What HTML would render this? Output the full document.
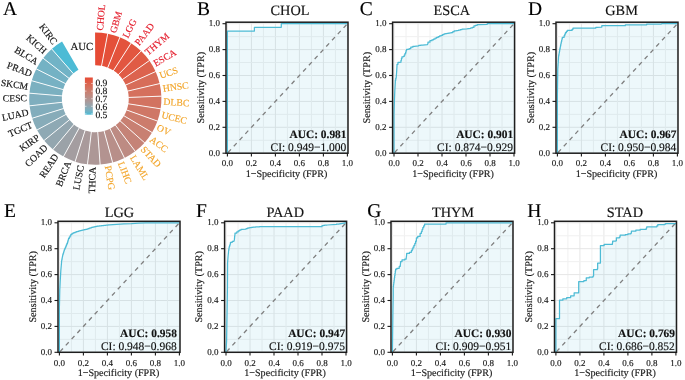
<!DOCTYPE html>
<html><head><meta charset="utf-8"><style>
html,body{margin:0;padding:0;background:#fff;}
body{width:685px;height:380px;overflow:hidden;font-family:"Liberation Serif",serif;}
svg{display:block;will-change:transform;} text{text-rendering:geometricPrecision;stroke-width:0.15px;paint-order:stroke;}
</style></head><body>
<svg width="685" height="380" viewBox="0 0 685 380">
<rect width="685" height="380" fill="#fff"/>
<path d="M95.18,65.25 L95.07,32.60 A66.1,66.1 0 0 1 107.69,33.77 L101.57,65.84 A33.45,33.45 0 0 0 95.18,65.25 Z" fill="#e64b35"/>
<path d="M101.57,65.84 L107.69,33.77 A66.1,66.1 0 0 1 119.85,37.33 L107.72,67.64 A33.45,33.45 0 0 0 101.57,65.84 Z" fill="#e45039"/>
<path d="M107.72,67.64 L119.85,37.33 A66.1,66.1 0 0 1 131.11,43.14 L113.42,70.58 A33.45,33.45 0 0 0 107.72,67.64 Z" fill="#e3533c"/>
<path d="M113.42,70.58 L131.11,43.14 A66.1,66.1 0 0 1 141.05,50.99 L118.45,74.56 A33.45,33.45 0 0 0 113.42,70.58 Z" fill="#e25640"/>
<path d="M118.45,74.56 L141.05,50.99 A66.1,66.1 0 0 1 149.31,60.60 L122.63,79.42 A33.45,33.45 0 0 0 118.45,74.56 Z" fill="#e05b45"/>
<path d="M122.63,79.42 L149.31,60.60 A66.1,66.1 0 0 1 155.59,71.60 L125.81,84.99 A33.45,33.45 0 0 0 122.63,79.42 Z" fill="#dc634e"/>
<path d="M125.81,84.99 L155.59,71.60 A66.1,66.1 0 0 1 159.65,83.61 L127.87,91.06 A33.45,33.45 0 0 0 125.81,84.99 Z" fill="#d76d59"/>
<path d="M127.87,91.06 L159.65,83.61 A66.1,66.1 0 0 1 161.35,96.16 L128.73,97.42 A33.45,33.45 0 0 0 127.87,91.06 Z" fill="#d5705d"/>
<path d="M128.73,97.42 L161.35,96.16 A66.1,66.1 0 0 1 160.62,108.81 L128.36,103.82 A33.45,33.45 0 0 0 128.73,97.42 Z" fill="#d27361"/>
<path d="M128.36,103.82 L160.62,108.81 A66.1,66.1 0 0 1 157.49,121.09 L126.77,110.03 A33.45,33.45 0 0 0 128.36,103.82 Z" fill="#cf7766"/>
<path d="M126.77,110.03 L157.49,121.09 A66.1,66.1 0 0 1 152.08,132.55 L124.03,115.83 A33.45,33.45 0 0 0 126.77,110.03 Z" fill="#cc7c6c"/>
<path d="M124.03,115.83 L152.08,132.55 A66.1,66.1 0 0 1 144.58,142.76 L120.24,121.00 A33.45,33.45 0 0 0 124.03,115.83 Z" fill="#c88072"/>
<path d="M120.24,121.00 L144.58,142.76 A66.1,66.1 0 0 1 135.26,151.35 L115.52,125.34 A33.45,33.45 0 0 0 120.24,121.00 Z" fill="#c58377"/>
<path d="M115.52,125.34 L135.26,151.35 A66.1,66.1 0 0 1 124.48,158.01 L110.07,128.71 A33.45,33.45 0 0 0 115.52,125.34 Z" fill="#bd8b83"/>
<path d="M110.07,128.71 L124.48,158.01 A66.1,66.1 0 0 1 112.63,162.49 L104.07,130.98 A33.45,33.45 0 0 0 110.07,128.71 Z" fill="#b88f89"/>
<path d="M104.07,130.98 L112.63,162.49 A66.1,66.1 0 0 1 100.14,164.62 L97.75,132.06 A33.45,33.45 0 0 0 104.07,130.98 Z" fill="#b39390"/>
<path d="M97.75,132.06 L100.14,164.62 A66.1,66.1 0 0 1 87.47,164.34 L91.34,131.91 A33.45,33.45 0 0 0 97.75,132.06 Z" fill="#ad9796"/>
<path d="M91.34,131.91 L87.47,164.34 A66.1,66.1 0 0 1 75.09,161.64 L85.07,130.55 A33.45,33.45 0 0 0 91.34,131.91 Z" fill="#a99a9b"/>
<path d="M85.07,130.55 L75.09,161.64 A66.1,66.1 0 0 1 63.46,156.62 L79.19,128.01 A33.45,33.45 0 0 0 85.07,130.55 Z" fill="#a49da0"/>
<path d="M79.19,128.01 L63.46,156.62 A66.1,66.1 0 0 1 52.99,149.48 L73.89,124.40 A33.45,33.45 0 0 0 79.19,128.01 Z" fill="#9ba2a8"/>
<path d="M73.89,124.40 L52.99,149.48 A66.1,66.1 0 0 1 44.08,140.48 L69.38,119.84 A33.45,33.45 0 0 0 73.89,124.40 Z" fill="#93a6af"/>
<path d="M69.38,119.84 L44.08,140.48 A66.1,66.1 0 0 1 37.05,129.94 L65.82,114.51 A33.45,33.45 0 0 0 69.38,119.84 Z" fill="#8ea9b4"/>
<path d="M65.82,114.51 L37.05,129.94 A66.1,66.1 0 0 1 32.16,118.25 L63.35,108.59 A33.45,33.45 0 0 0 65.82,114.51 Z" fill="#87acb9"/>
<path d="M63.35,108.59 L32.16,118.25 A66.1,66.1 0 0 1 29.59,105.84 L62.05,102.31 A33.45,33.45 0 0 0 63.35,108.59 Z" fill="#82adbc"/>
<path d="M62.05,102.31 L29.59,105.84 A66.1,66.1 0 0 1 29.43,93.17 L61.97,95.90 A33.45,33.45 0 0 0 62.05,102.31 Z" fill="#7faebe"/>
<path d="M61.97,95.90 L29.43,93.17 A66.1,66.1 0 0 1 31.70,80.70 L63.11,89.59 A33.45,33.45 0 0 0 61.97,95.90 Z" fill="#7bb0c0"/>
<path d="M63.11,89.59 L31.70,80.70 A66.1,66.1 0 0 1 36.30,68.90 L65.44,83.62 A33.45,33.45 0 0 0 63.11,89.59 Z" fill="#77b1c3"/>
<path d="M65.44,83.62 L36.30,68.90 A66.1,66.1 0 0 1 43.07,58.19 L68.87,78.20 A33.45,33.45 0 0 0 65.44,83.62 Z" fill="#74b2c4"/>
<path d="M68.87,78.20 L43.07,58.19 A66.1,66.1 0 0 1 51.76,48.97 L73.27,73.53 A33.45,33.45 0 0 0 68.87,78.20 Z" fill="#71b3c6"/>
<path d="M73.27,73.53 L51.76,48.97 A66.1,66.1 0 0 1 62.05,41.57 L78.47,69.79 A33.45,33.45 0 0 0 73.27,73.53 Z" fill="#4dbbd5"/>
<line x1="101.47" y1="66.33" x2="107.78" y2="33.28" stroke="#fff" stroke-width="0.9"/>
<line x1="107.54" y1="68.11" x2="120.03" y2="36.86" stroke="#fff" stroke-width="0.9"/>
<line x1="113.15" y1="71.00" x2="131.38" y2="42.72" stroke="#fff" stroke-width="0.9"/>
<line x1="118.11" y1="74.92" x2="141.40" y2="50.63" stroke="#fff" stroke-width="0.9"/>
<line x1="122.22" y1="79.71" x2="149.72" y2="60.31" stroke="#fff" stroke-width="0.9"/>
<line x1="125.35" y1="85.19" x2="156.05" y2="71.40" stroke="#fff" stroke-width="0.9"/>
<line x1="127.38" y1="91.18" x2="160.14" y2="83.49" stroke="#fff" stroke-width="0.9"/>
<line x1="128.23" y1="97.44" x2="161.85" y2="96.14" stroke="#fff" stroke-width="0.9"/>
<line x1="127.86" y1="103.74" x2="161.12" y2="108.89" stroke="#fff" stroke-width="0.9"/>
<line x1="126.30" y1="109.86" x2="157.96" y2="121.26" stroke="#fff" stroke-width="0.9"/>
<line x1="123.60" y1="115.57" x2="152.51" y2="132.80" stroke="#fff" stroke-width="0.9"/>
<line x1="119.86" y1="120.66" x2="144.95" y2="143.09" stroke="#fff" stroke-width="0.9"/>
<line x1="115.22" y1="124.95" x2="135.57" y2="151.75" stroke="#fff" stroke-width="0.9"/>
<line x1="109.85" y1="128.26" x2="124.70" y2="158.46" stroke="#fff" stroke-width="0.9"/>
<line x1="103.94" y1="130.50" x2="112.76" y2="162.97" stroke="#fff" stroke-width="0.9"/>
<line x1="97.71" y1="131.56" x2="100.18" y2="165.12" stroke="#fff" stroke-width="0.9"/>
<line x1="91.40" y1="131.42" x2="87.41" y2="164.83" stroke="#fff" stroke-width="0.9"/>
<line x1="85.23" y1="130.07" x2="74.94" y2="162.11" stroke="#fff" stroke-width="0.9"/>
<line x1="79.43" y1="127.57" x2="63.22" y2="157.06" stroke="#fff" stroke-width="0.9"/>
<line x1="74.21" y1="124.01" x2="52.67" y2="149.87" stroke="#fff" stroke-width="0.9"/>
<line x1="69.77" y1="119.53" x2="43.69" y2="140.79" stroke="#fff" stroke-width="0.9"/>
<line x1="66.26" y1="114.27" x2="36.61" y2="130.17" stroke="#fff" stroke-width="0.9"/>
<line x1="63.82" y1="108.44" x2="31.68" y2="118.39" stroke="#fff" stroke-width="0.9"/>
<line x1="62.54" y1="102.26" x2="29.09" y2="105.89" stroke="#fff" stroke-width="0.9"/>
<line x1="62.47" y1="95.94" x2="28.93" y2="93.13" stroke="#fff" stroke-width="0.9"/>
<line x1="63.59" y1="89.73" x2="31.22" y2="80.57" stroke="#fff" stroke-width="0.9"/>
<line x1="65.89" y1="83.84" x2="35.85" y2="68.67" stroke="#fff" stroke-width="0.9"/>
<line x1="69.26" y1="78.50" x2="42.68" y2="57.88" stroke="#fff" stroke-width="0.9"/>
<line x1="73.60" y1="73.91" x2="51.43" y2="48.59" stroke="#fff" stroke-width="0.9"/>
<text x="101.02" y="30.64" transform="rotate(-85.20 101.02 30.64)" text-anchor="start" dy="0.2em" font-size="9.7" fill="#E4202F" stroke="#E4202F" font-family="Liberation Serif">CHOL</text>
<text x="114.13" y="33.05" transform="rotate(-74.00 114.13 33.05)" text-anchor="start" dy="0.2em" font-size="9.7" fill="#E4202F" stroke="#E4202F" font-family="Liberation Serif">GBM</text>
<text x="126.20" y="37.79" transform="rotate(-63.10 126.20 37.79)" text-anchor="start" dy="0.2em" font-size="9.7" fill="#E4202F" stroke="#E4202F" font-family="Liberation Serif">LGG</text>
<text x="137.63" y="45.10" transform="rotate(-51.70 137.63 45.10)" text-anchor="start" dy="0.2em" font-size="9.7" fill="#E4202F" stroke="#E4202F" font-family="Liberation Serif">PAAD</text>
<text x="147.08" y="54.16" transform="rotate(-40.70 147.08 54.16)" text-anchor="start" dy="0.2em" font-size="9.7" fill="#E4202F" stroke="#E4202F" font-family="Liberation Serif">THYM</text>
<text x="154.69" y="64.96" transform="rotate(-29.60 154.69 64.96)" text-anchor="start" dy="0.2em" font-size="9.7" fill="#E4202F" stroke="#E4202F" font-family="Liberation Serif">ESCA</text>
<text x="160.07" y="77.03" transform="rotate(-18.50 160.07 77.03)" text-anchor="start" dy="0.2em" font-size="9.7" fill="#F2A52A" stroke="#F2A52A" font-family="Liberation Serif">UCS</text>
<text x="163.02" y="89.79" transform="rotate(-7.50 163.02 89.79)" text-anchor="start" dy="0.2em" font-size="9.7" fill="#F2A52A" stroke="#F2A52A" font-family="Liberation Serif">HNSC</text>
<text x="163.47" y="102.87" transform="rotate(3.50 163.47 102.87)" text-anchor="start" dy="0.2em" font-size="9.7" fill="#F2A52A" stroke="#F2A52A" font-family="Liberation Serif">DLBC</text>
<text x="161.42" y="115.80" transform="rotate(14.50 161.42 115.80)" text-anchor="start" dy="0.2em" font-size="9.7" fill="#F2A52A" stroke="#F2A52A" font-family="Liberation Serif">UCEC</text>
<text x="156.95" y="128.10" transform="rotate(25.50 156.95 128.10)" text-anchor="start" dy="0.2em" font-size="9.7" fill="#F2A52A" stroke="#F2A52A" font-family="Liberation Serif">OV</text>
<text x="150.20" y="139.33" transform="rotate(36.50 150.20 139.33)" text-anchor="start" dy="0.2em" font-size="9.7" fill="#F2A52A" stroke="#F2A52A" font-family="Liberation Serif">ACC</text>
<text x="141.79" y="148.73" transform="rotate(47.10 141.79 148.73)" text-anchor="start" dy="0.2em" font-size="9.7" fill="#F2A52A" stroke="#F2A52A" font-family="Liberation Serif">STAD</text>
<text x="131.29" y="156.75" transform="rotate(58.20 131.29 156.75)" text-anchor="start" dy="0.2em" font-size="9.7" fill="#F2A52A" stroke="#F2A52A" font-family="Liberation Serif">LAML</text>
<text x="119.67" y="162.51" transform="rotate(69.10 119.67 162.51)" text-anchor="start" dy="0.2em" font-size="9.7" fill="#F2A52A" stroke="#F2A52A" font-family="Liberation Serif">LIHC</text>
<text x="106.57" y="166.06" transform="rotate(80.50 106.57 166.06)" text-anchor="start" dy="0.2em" font-size="9.7" fill="#F2A52A" stroke="#F2A52A" font-family="Liberation Serif">PCPG</text>
<text x="93.75" y="166.98" transform="rotate(-88.70 93.75 166.98)" text-anchor="end" dy="0.2em" font-size="9.7" fill="#111" stroke="#111" font-family="Liberation Serif">THCA</text>
<text x="82.15" y="165.72" transform="rotate(-78.90 82.15 165.72)" text-anchor="end" dy="0.2em" font-size="9.7" fill="#111" stroke="#111" font-family="Liberation Serif">LUSC</text>
<text x="69.60" y="161.98" transform="rotate(-67.90 69.60 161.98)" text-anchor="end" dy="0.2em" font-size="9.7" fill="#111" stroke="#111" font-family="Liberation Serif">BRCA</text>
<text x="57.40" y="155.52" transform="rotate(-56.30 57.40 155.52)" text-anchor="end" dy="0.2em" font-size="9.7" fill="#111" stroke="#111" font-family="Liberation Serif">READ</text>
<text x="46.84" y="146.83" transform="rotate(-44.80 46.84 146.83)" text-anchor="end" dy="0.2em" font-size="9.7" fill="#111" stroke="#111" font-family="Liberation Serif">COAD</text>
<text x="39.22" y="137.68" transform="rotate(-34.80 39.22 137.68)" text-anchor="end" dy="0.2em" font-size="9.7" fill="#111" stroke="#111" font-family="Liberation Serif">KIRP</text>
<text x="32.52" y="125.61" transform="rotate(-23.20 32.52 125.61)" text-anchor="end" dy="0.2em" font-size="9.7" fill="#111" stroke="#111" font-family="Liberation Serif">TGCT</text>
<text x="28.59" y="113.37" transform="rotate(-12.40 28.59 113.37)" text-anchor="end" dy="0.2em" font-size="9.7" fill="#111" stroke="#111" font-family="Liberation Serif">LUAD</text>
<text x="27.00" y="99.30" transform="rotate(-0.50 27.00 99.30)" text-anchor="end" dy="0.2em" font-size="9.7" fill="#111" stroke="#111" font-family="Liberation Serif">CESC</text>
<text x="27.84" y="88.02" transform="rotate(9.00 27.84 88.02)" text-anchor="end" dy="0.2em" font-size="9.7" fill="#111" stroke="#111" font-family="Liberation Serif">SKCM</text>
<text x="31.24" y="75.00" transform="rotate(20.30 31.24 75.00)" text-anchor="end" dy="0.2em" font-size="9.7" fill="#111" stroke="#111" font-family="Liberation Serif">PRAD</text>
<text x="36.82" y="63.42" transform="rotate(31.10 36.82 63.42)" text-anchor="end" dy="0.2em" font-size="9.7" fill="#111" stroke="#111" font-family="Liberation Serif">BLCA</text>
<text x="44.46" y="53.09" transform="rotate(41.90 44.46 53.09)" text-anchor="end" dy="0.2em" font-size="9.7" fill="#111" stroke="#111" font-family="Liberation Serif">KICH</text>
<text x="54.29" y="44.08" transform="rotate(53.10 54.29 44.08)" text-anchor="end" dy="0.2em" font-size="9.7" fill="#111" stroke="#111" font-family="Liberation Serif">KIRC</text>
<text x="70.5" y="50.0" font-size="10.8" fill="#111" stroke="#111" font-family="Liberation Serif">AUC</text>
<defs><linearGradient id="lg" x1="0" y1="1" x2="0" y2="0">
<stop offset="0.00" stop-color="#4dbbd5"/>
<stop offset="0.10" stop-color="#74b2c4"/>
<stop offset="0.20" stop-color="#8ea9b4"/>
<stop offset="0.30" stop-color="#a19fa3"/>
<stop offset="0.40" stop-color="#b09593"/>
<stop offset="0.50" stop-color="#bd8b83"/>
<stop offset="0.60" stop-color="#c88173"/>
<stop offset="0.70" stop-color="#d17564"/>
<stop offset="0.80" stop-color="#d96954"/>
<stop offset="0.90" stop-color="#e05b45"/>
<stop offset="1.00" stop-color="#e64b35"/>
</linearGradient></defs>
<rect x="84.9" y="77.5" width="7.90" height="37.20" fill="url(#lg)"/>
<line x1="84.9" x2="86.5" y1="113.90" y2="113.90" stroke="#fff" stroke-width="0.6"/>
<line x1="91.2" x2="92.8" y1="113.90" y2="113.90" stroke="#fff" stroke-width="0.6"/>
<text x="95.4" y="114.40" dy="0.34em" font-size="9.6" fill="#111" stroke="#111" font-family="Liberation Serif">0.5</text>
<line x1="84.9" x2="86.5" y1="106.30" y2="106.30" stroke="#fff" stroke-width="0.6"/>
<line x1="91.2" x2="92.8" y1="106.30" y2="106.30" stroke="#fff" stroke-width="0.6"/>
<text x="95.4" y="106.50" dy="0.34em" font-size="9.6" fill="#111" stroke="#111" font-family="Liberation Serif">0.6</text>
<line x1="84.9" x2="86.5" y1="98.70" y2="98.70" stroke="#fff" stroke-width="0.6"/>
<line x1="91.2" x2="92.8" y1="98.70" y2="98.70" stroke="#fff" stroke-width="0.6"/>
<text x="95.4" y="98.50" dy="0.34em" font-size="9.6" fill="#111" stroke="#111" font-family="Liberation Serif">0.7</text>
<line x1="84.9" x2="86.5" y1="91.10" y2="91.10" stroke="#fff" stroke-width="0.6"/>
<line x1="91.2" x2="92.8" y1="91.10" y2="91.10" stroke="#fff" stroke-width="0.6"/>
<text x="95.4" y="90.60" dy="0.34em" font-size="9.6" fill="#111" stroke="#111" font-family="Liberation Serif">0.8</text>
<line x1="84.9" x2="86.5" y1="83.50" y2="83.50" stroke="#fff" stroke-width="0.6"/>
<line x1="91.2" x2="92.8" y1="83.50" y2="83.50" stroke="#fff" stroke-width="0.6"/>
<text x="95.4" y="82.70" dy="0.34em" font-size="9.6" fill="#111" stroke="#111" font-family="Liberation Serif">0.9</text>
<clipPath id="cB"><rect x="226.0" y="22.2" width="122.0" height="131.0"/></clipPath>
<rect x="226.0" y="22.2" width="122.0" height="131.0" fill="#fff"/>
<g clip-path="url(#cB)"><line x1="227.40" x2="227.40" y1="22.2" y2="153.2" stroke="#e6e6e6" stroke-width="1"/><line y1="153.20" y2="153.20" x1="226.0" x2="348.0" stroke="#e6e6e6" stroke-width="1"/><line x1="239.40" x2="239.40" y1="22.2" y2="153.2" stroke="#f0f0f0" stroke-width="1"/><line y1="140.25" y2="140.25" x1="226.0" x2="348.0" stroke="#f0f0f0" stroke-width="1"/><line x1="251.40" x2="251.40" y1="22.2" y2="153.2" stroke="#e6e6e6" stroke-width="1"/><line y1="127.30" y2="127.30" x1="226.0" x2="348.0" stroke="#e6e6e6" stroke-width="1"/><line x1="263.40" x2="263.40" y1="22.2" y2="153.2" stroke="#f0f0f0" stroke-width="1"/><line y1="114.35" y2="114.35" x1="226.0" x2="348.0" stroke="#f0f0f0" stroke-width="1"/><line x1="275.40" x2="275.40" y1="22.2" y2="153.2" stroke="#e6e6e6" stroke-width="1"/><line y1="101.40" y2="101.40" x1="226.0" x2="348.0" stroke="#e6e6e6" stroke-width="1"/><line x1="287.40" x2="287.40" y1="22.2" y2="153.2" stroke="#f0f0f0" stroke-width="1"/><line y1="88.45" y2="88.45" x1="226.0" x2="348.0" stroke="#f0f0f0" stroke-width="1"/><line x1="299.40" x2="299.40" y1="22.2" y2="153.2" stroke="#e6e6e6" stroke-width="1"/><line y1="75.50" y2="75.50" x1="226.0" x2="348.0" stroke="#e6e6e6" stroke-width="1"/><line x1="311.40" x2="311.40" y1="22.2" y2="153.2" stroke="#f0f0f0" stroke-width="1"/><line y1="62.55" y2="62.55" x1="226.0" x2="348.0" stroke="#f0f0f0" stroke-width="1"/><line x1="323.40" x2="323.40" y1="22.2" y2="153.2" stroke="#e6e6e6" stroke-width="1"/><line y1="49.60" y2="49.60" x1="226.0" x2="348.0" stroke="#e6e6e6" stroke-width="1"/><line x1="335.40" x2="335.40" y1="22.2" y2="153.2" stroke="#f0f0f0" stroke-width="1"/><line y1="36.65" y2="36.65" x1="226.0" x2="348.0" stroke="#f0f0f0" stroke-width="1"/><line x1="347.40" x2="347.40" y1="22.2" y2="153.2" stroke="#e6e6e6" stroke-width="1"/><line y1="23.70" y2="23.70" x1="226.0" x2="348.0" stroke="#e6e6e6" stroke-width="1"/>
<path d="M227.40,153.20 L227.40,31.08 L254.40,31.08 L254.40,27.33 L281.28,27.33 L281.28,23.70 L347.40,23.70 L347.40,153.20 Z" fill="#4DBBD5" fill-opacity="0.1"/>
<line x1="227.40" y1="153.20" x2="347.40" y2="23.70" stroke="#7f7f7f" stroke-width="1.3" stroke-dasharray="4.3 4.2" stroke-dashoffset="-0.9"/>
<path d="M227.40,153.20 L227.40,31.08 L254.40,31.08 L254.40,27.33 L281.28,27.33 L281.28,23.70 L347.40,23.70" fill="none" stroke="#4DBBD5" stroke-width="1.25" stroke-linejoin="round"/>
</g>
<rect x="226.0" y="22.2" width="122.0" height="131.0" fill="none" stroke="#1e1e1e" stroke-width="1.5"/>
<line x1="222.5" x2="226.0" y1="153.20" y2="153.20" stroke="#1a1a1a" stroke-width="1.1"/>
<text x="220.00" y="153.20" dy="0.29em" text-anchor="end" font-size="9" fill="#1a1a1a" stroke="#1a1a1a" font-family="Liberation Serif">0.0</text>
<line y1="153.2" y2="156.5" x1="227.40" x2="227.40" stroke="#1a1a1a" stroke-width="1.1"/>
<text x="227.40" y="166.00" text-anchor="middle" font-size="9" fill="#1a1a1a" stroke="#1a1a1a" font-family="Liberation Serif">0.0</text>
<line x1="222.5" x2="226.0" y1="127.30" y2="127.30" stroke="#1a1a1a" stroke-width="1.1"/>
<text x="220.00" y="127.30" dy="0.29em" text-anchor="end" font-size="9" fill="#1a1a1a" stroke="#1a1a1a" font-family="Liberation Serif">0.2</text>
<line y1="153.2" y2="156.5" x1="251.40" x2="251.40" stroke="#1a1a1a" stroke-width="1.1"/>
<text x="251.40" y="166.00" text-anchor="middle" font-size="9" fill="#1a1a1a" stroke="#1a1a1a" font-family="Liberation Serif">0.2</text>
<line x1="222.5" x2="226.0" y1="101.40" y2="101.40" stroke="#1a1a1a" stroke-width="1.1"/>
<text x="220.00" y="101.40" dy="0.29em" text-anchor="end" font-size="9" fill="#1a1a1a" stroke="#1a1a1a" font-family="Liberation Serif">0.4</text>
<line y1="153.2" y2="156.5" x1="275.40" x2="275.40" stroke="#1a1a1a" stroke-width="1.1"/>
<text x="275.40" y="166.00" text-anchor="middle" font-size="9" fill="#1a1a1a" stroke="#1a1a1a" font-family="Liberation Serif">0.4</text>
<line x1="222.5" x2="226.0" y1="75.50" y2="75.50" stroke="#1a1a1a" stroke-width="1.1"/>
<text x="220.00" y="75.50" dy="0.29em" text-anchor="end" font-size="9" fill="#1a1a1a" stroke="#1a1a1a" font-family="Liberation Serif">0.6</text>
<line y1="153.2" y2="156.5" x1="299.40" x2="299.40" stroke="#1a1a1a" stroke-width="1.1"/>
<text x="299.40" y="166.00" text-anchor="middle" font-size="9" fill="#1a1a1a" stroke="#1a1a1a" font-family="Liberation Serif">0.6</text>
<line x1="222.5" x2="226.0" y1="49.60" y2="49.60" stroke="#1a1a1a" stroke-width="1.1"/>
<text x="220.00" y="49.60" dy="0.29em" text-anchor="end" font-size="9" fill="#1a1a1a" stroke="#1a1a1a" font-family="Liberation Serif">0.8</text>
<line y1="153.2" y2="156.5" x1="323.40" x2="323.40" stroke="#1a1a1a" stroke-width="1.1"/>
<text x="323.40" y="166.00" text-anchor="middle" font-size="9" fill="#1a1a1a" stroke="#1a1a1a" font-family="Liberation Serif">0.8</text>
<line x1="222.5" x2="226.0" y1="23.70" y2="23.70" stroke="#1a1a1a" stroke-width="1.1"/>
<text x="220.00" y="23.70" dy="0.29em" text-anchor="end" font-size="9" fill="#1a1a1a" stroke="#1a1a1a" font-family="Liberation Serif">1.0</text>
<line y1="153.2" y2="156.5" x1="347.40" x2="347.40" stroke="#1a1a1a" stroke-width="1.1"/>
<text x="347.40" y="166.00" text-anchor="middle" font-size="9" fill="#1a1a1a" stroke="#1a1a1a" font-family="Liberation Serif">1.0</text>
<text x="286.50" y="176.50" text-anchor="middle" font-size="10.1" fill="#1a1a1a" stroke="#1a1a1a" font-family="Liberation Serif">1−Specificity (FPR)</text>
<text x="203.80" y="87.70" transform="rotate(-90 203.80 87.70)" text-anchor="middle" font-size="10.2" fill="#1a1a1a" stroke="#1a1a1a" font-family="Liberation Serif">Sensitivity (TPR)</text>
<text x="346.50" y="137.80" text-anchor="end" font-size="11.4" font-weight="bold" fill="#111" stroke="#111" font-family="Liberation Serif">AUC: 0.981</text>
<text x="346.30" y="150.80" text-anchor="end" font-size="11.5" fill="#111" stroke="#111" font-family="Liberation Serif">CI: 0.949−1.000</text>
<text x="290.00" y="14.90" text-anchor="middle" font-size="14.3" fill="#111" stroke="#111" font-family="Liberation Serif">CHOL</text>
<text x="197.00" y="15.20" font-size="19.5" fill="#000" stroke="#000" font-family="Liberation Serif">B</text>
<clipPath id="cC"><rect x="392.6" y="22.2" width="122.0" height="131.0"/></clipPath>
<rect x="392.6" y="22.2" width="122.0" height="131.0" fill="#fff"/>
<g clip-path="url(#cC)"><line x1="394.00" x2="394.00" y1="22.2" y2="153.2" stroke="#e6e6e6" stroke-width="1"/><line y1="153.20" y2="153.20" x1="392.6" x2="514.6" stroke="#e6e6e6" stroke-width="1"/><line x1="406.00" x2="406.00" y1="22.2" y2="153.2" stroke="#f0f0f0" stroke-width="1"/><line y1="140.25" y2="140.25" x1="392.6" x2="514.6" stroke="#f0f0f0" stroke-width="1"/><line x1="418.00" x2="418.00" y1="22.2" y2="153.2" stroke="#e6e6e6" stroke-width="1"/><line y1="127.30" y2="127.30" x1="392.6" x2="514.6" stroke="#e6e6e6" stroke-width="1"/><line x1="430.00" x2="430.00" y1="22.2" y2="153.2" stroke="#f0f0f0" stroke-width="1"/><line y1="114.35" y2="114.35" x1="392.6" x2="514.6" stroke="#f0f0f0" stroke-width="1"/><line x1="442.00" x2="442.00" y1="22.2" y2="153.2" stroke="#e6e6e6" stroke-width="1"/><line y1="101.40" y2="101.40" x1="392.6" x2="514.6" stroke="#e6e6e6" stroke-width="1"/><line x1="454.00" x2="454.00" y1="22.2" y2="153.2" stroke="#f0f0f0" stroke-width="1"/><line y1="88.45" y2="88.45" x1="392.6" x2="514.6" stroke="#f0f0f0" stroke-width="1"/><line x1="466.00" x2="466.00" y1="22.2" y2="153.2" stroke="#e6e6e6" stroke-width="1"/><line y1="75.50" y2="75.50" x1="392.6" x2="514.6" stroke="#e6e6e6" stroke-width="1"/><line x1="478.00" x2="478.00" y1="22.2" y2="153.2" stroke="#f0f0f0" stroke-width="1"/><line y1="62.55" y2="62.55" x1="392.6" x2="514.6" stroke="#f0f0f0" stroke-width="1"/><line x1="490.00" x2="490.00" y1="22.2" y2="153.2" stroke="#e6e6e6" stroke-width="1"/><line y1="49.60" y2="49.60" x1="392.6" x2="514.6" stroke="#e6e6e6" stroke-width="1"/><line x1="502.00" x2="502.00" y1="22.2" y2="153.2" stroke="#f0f0f0" stroke-width="1"/><line y1="36.65" y2="36.65" x1="392.6" x2="514.6" stroke="#f0f0f0" stroke-width="1"/><line x1="514.00" x2="514.00" y1="22.2" y2="153.2" stroke="#e6e6e6" stroke-width="1"/><line y1="23.70" y2="23.70" x1="392.6" x2="514.6" stroke="#e6e6e6" stroke-width="1"/>
<path d="M394.00,153.20 L394.00,114.35 L394.48,98.81 L394.84,90.00 L395.32,82.10 L395.32,80.16 L395.74,80.16 L395.74,78.22 L396.16,78.22 L396.64,71.61 L397.00,65.66 L397.00,64.36 L397.96,64.36 L397.96,62.42 L399.64,62.42 L400.96,62.16 L400.96,60.28 L401.44,60.28 L401.44,58.41 L401.92,58.41 L401.92,56.85 L402.76,56.85 L404.20,56.46 L404.20,55.10 L404.92,55.10 L404.92,53.74 L405.64,53.74 L405.64,52.00 L406.12,52.00 L406.12,50.25 L406.60,50.25 L406.60,49.47 L408.16,49.47 L408.16,49.02 L409.48,49.02 L409.48,48.56 L410.80,48.56 L410.80,47.14 L412.84,47.14 L412.84,46.36 L414.16,46.36 L418.72,45.84 L418.72,45.46 L420.70,45.46 L420.70,45.07 L422.68,45.07 L427.36,44.55 L427.96,43.64 L427.96,42.15 L429.94,42.15 L429.94,40.66 L431.92,40.66 L431.92,39.86 L433.48,39.86 L433.48,39.05 L435.04,39.05 L435.04,38.24 L436.60,38.24 L436.60,37.43 L438.16,37.43 L438.16,36.70 L439.62,36.70 L439.62,35.98 L441.09,35.98 L441.09,35.25 L442.55,35.25 L442.55,34.53 L444.02,34.53 L444.02,33.80 L445.48,33.80 L445.48,33.54 L446.94,33.54 L446.94,33.28 L448.41,33.28 L448.41,33.02 L449.87,33.02 L449.87,32.76 L451.34,32.76 L451.34,32.51 L452.80,32.51 L452.80,31.73 L454.18,31.73 L454.18,30.95 L455.56,30.95 L458.56,30.43 L458.56,30.00 L460.28,30.00 L460.28,29.57 L462.00,29.57 L462.00,29.14 L463.72,29.14 L466.72,28.88 L470.80,28.36 L470.80,27.91 L472.36,27.91 L472.36,27.46 L473.92,27.46 L473.92,25.90 L475.36,25.90 L475.36,25.32 L477.16,25.32 L477.16,24.74 L478.96,24.74 L487.24,24.35 L487.24,23.70 L488.20,23.70 L514.00,23.70 L514.00,153.20 Z" fill="#4DBBD5" fill-opacity="0.1"/>
<line x1="394.00" y1="153.20" x2="514.00" y2="23.70" stroke="#7f7f7f" stroke-width="1.3" stroke-dasharray="4.3 4.2" stroke-dashoffset="-0.9"/>
<path d="M394.00,153.20 L394.00,114.35 L394.48,98.81 L394.84,90.00 L395.32,82.10 L395.32,80.16 L395.74,80.16 L395.74,78.22 L396.16,78.22 L396.64,71.61 L397.00,65.66 L397.00,64.36 L397.96,64.36 L397.96,62.42 L399.64,62.42 L400.96,62.16 L400.96,60.28 L401.44,60.28 L401.44,58.41 L401.92,58.41 L401.92,56.85 L402.76,56.85 L404.20,56.46 L404.20,55.10 L404.92,55.10 L404.92,53.74 L405.64,53.74 L405.64,52.00 L406.12,52.00 L406.12,50.25 L406.60,50.25 L406.60,49.47 L408.16,49.47 L408.16,49.02 L409.48,49.02 L409.48,48.56 L410.80,48.56 L410.80,47.14 L412.84,47.14 L412.84,46.36 L414.16,46.36 L418.72,45.84 L418.72,45.46 L420.70,45.46 L420.70,45.07 L422.68,45.07 L427.36,44.55 L427.96,43.64 L427.96,42.15 L429.94,42.15 L429.94,40.66 L431.92,40.66 L431.92,39.86 L433.48,39.86 L433.48,39.05 L435.04,39.05 L435.04,38.24 L436.60,38.24 L436.60,37.43 L438.16,37.43 L438.16,36.70 L439.62,36.70 L439.62,35.98 L441.09,35.98 L441.09,35.25 L442.55,35.25 L442.55,34.53 L444.02,34.53 L444.02,33.80 L445.48,33.80 L445.48,33.54 L446.94,33.54 L446.94,33.28 L448.41,33.28 L448.41,33.02 L449.87,33.02 L449.87,32.76 L451.34,32.76 L451.34,32.51 L452.80,32.51 L452.80,31.73 L454.18,31.73 L454.18,30.95 L455.56,30.95 L458.56,30.43 L458.56,30.00 L460.28,30.00 L460.28,29.57 L462.00,29.57 L462.00,29.14 L463.72,29.14 L466.72,28.88 L470.80,28.36 L470.80,27.91 L472.36,27.91 L472.36,27.46 L473.92,27.46 L473.92,25.90 L475.36,25.90 L475.36,25.32 L477.16,25.32 L477.16,24.74 L478.96,24.74 L487.24,24.35 L487.24,23.70 L488.20,23.70 L514.00,23.70" fill="none" stroke="#4DBBD5" stroke-width="1.25" stroke-linejoin="round"/>
</g>
<rect x="392.6" y="22.2" width="122.0" height="131.0" fill="none" stroke="#1e1e1e" stroke-width="1.5"/>
<line x1="389.1" x2="392.6" y1="153.20" y2="153.20" stroke="#1a1a1a" stroke-width="1.1"/>
<text x="386.60" y="153.20" dy="0.29em" text-anchor="end" font-size="9" fill="#1a1a1a" stroke="#1a1a1a" font-family="Liberation Serif">0.0</text>
<line y1="153.2" y2="156.5" x1="394.00" x2="394.00" stroke="#1a1a1a" stroke-width="1.1"/>
<text x="394.00" y="166.00" text-anchor="middle" font-size="9" fill="#1a1a1a" stroke="#1a1a1a" font-family="Liberation Serif">0.0</text>
<line x1="389.1" x2="392.6" y1="127.30" y2="127.30" stroke="#1a1a1a" stroke-width="1.1"/>
<text x="386.60" y="127.30" dy="0.29em" text-anchor="end" font-size="9" fill="#1a1a1a" stroke="#1a1a1a" font-family="Liberation Serif">0.2</text>
<line y1="153.2" y2="156.5" x1="418.00" x2="418.00" stroke="#1a1a1a" stroke-width="1.1"/>
<text x="418.00" y="166.00" text-anchor="middle" font-size="9" fill="#1a1a1a" stroke="#1a1a1a" font-family="Liberation Serif">0.2</text>
<line x1="389.1" x2="392.6" y1="101.40" y2="101.40" stroke="#1a1a1a" stroke-width="1.1"/>
<text x="386.60" y="101.40" dy="0.29em" text-anchor="end" font-size="9" fill="#1a1a1a" stroke="#1a1a1a" font-family="Liberation Serif">0.4</text>
<line y1="153.2" y2="156.5" x1="442.00" x2="442.00" stroke="#1a1a1a" stroke-width="1.1"/>
<text x="442.00" y="166.00" text-anchor="middle" font-size="9" fill="#1a1a1a" stroke="#1a1a1a" font-family="Liberation Serif">0.4</text>
<line x1="389.1" x2="392.6" y1="75.50" y2="75.50" stroke="#1a1a1a" stroke-width="1.1"/>
<text x="386.60" y="75.50" dy="0.29em" text-anchor="end" font-size="9" fill="#1a1a1a" stroke="#1a1a1a" font-family="Liberation Serif">0.6</text>
<line y1="153.2" y2="156.5" x1="466.00" x2="466.00" stroke="#1a1a1a" stroke-width="1.1"/>
<text x="466.00" y="166.00" text-anchor="middle" font-size="9" fill="#1a1a1a" stroke="#1a1a1a" font-family="Liberation Serif">0.6</text>
<line x1="389.1" x2="392.6" y1="49.60" y2="49.60" stroke="#1a1a1a" stroke-width="1.1"/>
<text x="386.60" y="49.60" dy="0.29em" text-anchor="end" font-size="9" fill="#1a1a1a" stroke="#1a1a1a" font-family="Liberation Serif">0.8</text>
<line y1="153.2" y2="156.5" x1="490.00" x2="490.00" stroke="#1a1a1a" stroke-width="1.1"/>
<text x="490.00" y="166.00" text-anchor="middle" font-size="9" fill="#1a1a1a" stroke="#1a1a1a" font-family="Liberation Serif">0.8</text>
<line x1="389.1" x2="392.6" y1="23.70" y2="23.70" stroke="#1a1a1a" stroke-width="1.1"/>
<text x="386.60" y="23.70" dy="0.29em" text-anchor="end" font-size="9" fill="#1a1a1a" stroke="#1a1a1a" font-family="Liberation Serif">1.0</text>
<line y1="153.2" y2="156.5" x1="514.00" x2="514.00" stroke="#1a1a1a" stroke-width="1.1"/>
<text x="514.00" y="166.00" text-anchor="middle" font-size="9" fill="#1a1a1a" stroke="#1a1a1a" font-family="Liberation Serif">1.0</text>
<text x="453.10" y="176.50" text-anchor="middle" font-size="10.1" fill="#1a1a1a" stroke="#1a1a1a" font-family="Liberation Serif">1−Specificity (FPR)</text>
<text x="370.40" y="87.70" transform="rotate(-90 370.40 87.70)" text-anchor="middle" font-size="10.2" fill="#1a1a1a" stroke="#1a1a1a" font-family="Liberation Serif">Sensitivity (TPR)</text>
<text x="513.10" y="137.80" text-anchor="end" font-size="11.4" font-weight="bold" fill="#111" stroke="#111" font-family="Liberation Serif">AUC: 0.901</text>
<text x="512.90" y="150.80" text-anchor="end" font-size="11.5" fill="#111" stroke="#111" font-family="Liberation Serif">CI: 0.874−0.929</text>
<text x="451.80" y="14.90" text-anchor="middle" font-size="14.3" fill="#111" stroke="#111" font-family="Liberation Serif">ESCA</text>
<text x="359.70" y="15.20" font-size="19.5" fill="#000" stroke="#000" font-family="Liberation Serif">C</text>
<clipPath id="cD"><rect x="556.0" y="22.2" width="122.0" height="131.0"/></clipPath>
<rect x="556.0" y="22.2" width="122.0" height="131.0" fill="#fff"/>
<g clip-path="url(#cD)"><line x1="557.40" x2="557.40" y1="22.2" y2="153.2" stroke="#e6e6e6" stroke-width="1"/><line y1="153.20" y2="153.20" x1="556.0" x2="678.0" stroke="#e6e6e6" stroke-width="1"/><line x1="569.40" x2="569.40" y1="22.2" y2="153.2" stroke="#f0f0f0" stroke-width="1"/><line y1="140.25" y2="140.25" x1="556.0" x2="678.0" stroke="#f0f0f0" stroke-width="1"/><line x1="581.40" x2="581.40" y1="22.2" y2="153.2" stroke="#e6e6e6" stroke-width="1"/><line y1="127.30" y2="127.30" x1="556.0" x2="678.0" stroke="#e6e6e6" stroke-width="1"/><line x1="593.40" x2="593.40" y1="22.2" y2="153.2" stroke="#f0f0f0" stroke-width="1"/><line y1="114.35" y2="114.35" x1="556.0" x2="678.0" stroke="#f0f0f0" stroke-width="1"/><line x1="605.40" x2="605.40" y1="22.2" y2="153.2" stroke="#e6e6e6" stroke-width="1"/><line y1="101.40" y2="101.40" x1="556.0" x2="678.0" stroke="#e6e6e6" stroke-width="1"/><line x1="617.40" x2="617.40" y1="22.2" y2="153.2" stroke="#f0f0f0" stroke-width="1"/><line y1="88.45" y2="88.45" x1="556.0" x2="678.0" stroke="#f0f0f0" stroke-width="1"/><line x1="629.40" x2="629.40" y1="22.2" y2="153.2" stroke="#e6e6e6" stroke-width="1"/><line y1="75.50" y2="75.50" x1="556.0" x2="678.0" stroke="#e6e6e6" stroke-width="1"/><line x1="641.40" x2="641.40" y1="22.2" y2="153.2" stroke="#f0f0f0" stroke-width="1"/><line y1="62.55" y2="62.55" x1="556.0" x2="678.0" stroke="#f0f0f0" stroke-width="1"/><line x1="653.40" x2="653.40" y1="22.2" y2="153.2" stroke="#e6e6e6" stroke-width="1"/><line y1="49.60" y2="49.60" x1="556.0" x2="678.0" stroke="#e6e6e6" stroke-width="1"/><line x1="665.40" x2="665.40" y1="22.2" y2="153.2" stroke="#f0f0f0" stroke-width="1"/><line y1="36.65" y2="36.65" x1="556.0" x2="678.0" stroke="#f0f0f0" stroke-width="1"/><line x1="677.40" x2="677.40" y1="22.2" y2="153.2" stroke="#e6e6e6" stroke-width="1"/><line y1="23.70" y2="23.70" x1="556.0" x2="678.0" stroke="#e6e6e6" stroke-width="1"/>
<path d="M557.40,153.20 L557.40,94.02 L557.76,70.06 L557.76,68.62 L557.85,68.62 L557.85,67.18 L557.95,67.18 L557.95,65.74 L558.04,65.74 L558.04,64.31 L558.13,64.31 L558.13,62.87 L558.23,62.87 L558.23,61.43 L558.32,61.43 L558.32,59.99 L558.41,59.99 L558.41,58.55 L558.51,58.55 L558.51,57.11 L558.60,57.11 L558.60,55.66 L558.86,55.66 L558.86,54.21 L559.13,54.21 L559.13,52.76 L559.39,52.76 L559.39,51.31 L559.66,51.31 L559.66,49.86 L559.92,49.86 L559.92,48.47 L560.19,48.47 L560.19,47.07 L560.46,47.07 L560.46,45.68 L560.73,45.68 L560.73,44.29 L561.00,44.29 L561.00,42.90 L561.33,42.90 L561.33,41.51 L561.66,41.51 L561.66,40.11 L561.99,40.11 L561.99,38.72 L562.32,38.72 L562.32,37.30 L564.12,37.30 L564.12,35.68 L564.78,35.68 L564.78,34.06 L565.44,34.06 L565.44,32.70 L566.40,32.70 L566.40,31.34 L567.36,31.34 L567.36,30.43 L568.68,30.43 L572.04,30.43 L572.04,29.27 L573.00,29.27 L573.00,28.10 L573.96,28.10 L595.80,28.10 L595.80,27.46 L597.00,27.46 L601.80,27.07 L601.80,25.64 L602.52,25.64 L625.32,25.64 L625.32,24.87 L626.76,24.87 L646.68,24.87 L646.68,24.09 L647.76,24.09 L660.96,24.09 L662.04,23.70 L677.40,23.70 L677.40,153.20 Z" fill="#4DBBD5" fill-opacity="0.1"/>
<line x1="557.40" y1="153.20" x2="677.40" y2="23.70" stroke="#7f7f7f" stroke-width="1.3" stroke-dasharray="4.3 4.2" stroke-dashoffset="-0.9"/>
<path d="M557.40,153.20 L557.40,94.02 L557.76,70.06 L557.76,68.62 L557.85,68.62 L557.85,67.18 L557.95,67.18 L557.95,65.74 L558.04,65.74 L558.04,64.31 L558.13,64.31 L558.13,62.87 L558.23,62.87 L558.23,61.43 L558.32,61.43 L558.32,59.99 L558.41,59.99 L558.41,58.55 L558.51,58.55 L558.51,57.11 L558.60,57.11 L558.60,55.66 L558.86,55.66 L558.86,54.21 L559.13,54.21 L559.13,52.76 L559.39,52.76 L559.39,51.31 L559.66,51.31 L559.66,49.86 L559.92,49.86 L559.92,48.47 L560.19,48.47 L560.19,47.07 L560.46,47.07 L560.46,45.68 L560.73,45.68 L560.73,44.29 L561.00,44.29 L561.00,42.90 L561.33,42.90 L561.33,41.51 L561.66,41.51 L561.66,40.11 L561.99,40.11 L561.99,38.72 L562.32,38.72 L562.32,37.30 L564.12,37.30 L564.12,35.68 L564.78,35.68 L564.78,34.06 L565.44,34.06 L565.44,32.70 L566.40,32.70 L566.40,31.34 L567.36,31.34 L567.36,30.43 L568.68,30.43 L572.04,30.43 L572.04,29.27 L573.00,29.27 L573.00,28.10 L573.96,28.10 L595.80,28.10 L595.80,27.46 L597.00,27.46 L601.80,27.07 L601.80,25.64 L602.52,25.64 L625.32,25.64 L625.32,24.87 L626.76,24.87 L646.68,24.87 L646.68,24.09 L647.76,24.09 L660.96,24.09 L662.04,23.70 L677.40,23.70" fill="none" stroke="#4DBBD5" stroke-width="1.25" stroke-linejoin="round"/>
</g>
<rect x="556.0" y="22.2" width="122.0" height="131.0" fill="none" stroke="#1e1e1e" stroke-width="1.5"/>
<line x1="552.5" x2="556.0" y1="153.20" y2="153.20" stroke="#1a1a1a" stroke-width="1.1"/>
<text x="550.00" y="153.20" dy="0.29em" text-anchor="end" font-size="9" fill="#1a1a1a" stroke="#1a1a1a" font-family="Liberation Serif">0.0</text>
<line y1="153.2" y2="156.5" x1="557.40" x2="557.40" stroke="#1a1a1a" stroke-width="1.1"/>
<text x="557.40" y="166.00" text-anchor="middle" font-size="9" fill="#1a1a1a" stroke="#1a1a1a" font-family="Liberation Serif">0.0</text>
<line x1="552.5" x2="556.0" y1="127.30" y2="127.30" stroke="#1a1a1a" stroke-width="1.1"/>
<text x="550.00" y="127.30" dy="0.29em" text-anchor="end" font-size="9" fill="#1a1a1a" stroke="#1a1a1a" font-family="Liberation Serif">0.2</text>
<line y1="153.2" y2="156.5" x1="581.40" x2="581.40" stroke="#1a1a1a" stroke-width="1.1"/>
<text x="581.40" y="166.00" text-anchor="middle" font-size="9" fill="#1a1a1a" stroke="#1a1a1a" font-family="Liberation Serif">0.2</text>
<line x1="552.5" x2="556.0" y1="101.40" y2="101.40" stroke="#1a1a1a" stroke-width="1.1"/>
<text x="550.00" y="101.40" dy="0.29em" text-anchor="end" font-size="9" fill="#1a1a1a" stroke="#1a1a1a" font-family="Liberation Serif">0.4</text>
<line y1="153.2" y2="156.5" x1="605.40" x2="605.40" stroke="#1a1a1a" stroke-width="1.1"/>
<text x="605.40" y="166.00" text-anchor="middle" font-size="9" fill="#1a1a1a" stroke="#1a1a1a" font-family="Liberation Serif">0.4</text>
<line x1="552.5" x2="556.0" y1="75.50" y2="75.50" stroke="#1a1a1a" stroke-width="1.1"/>
<text x="550.00" y="75.50" dy="0.29em" text-anchor="end" font-size="9" fill="#1a1a1a" stroke="#1a1a1a" font-family="Liberation Serif">0.6</text>
<line y1="153.2" y2="156.5" x1="629.40" x2="629.40" stroke="#1a1a1a" stroke-width="1.1"/>
<text x="629.40" y="166.00" text-anchor="middle" font-size="9" fill="#1a1a1a" stroke="#1a1a1a" font-family="Liberation Serif">0.6</text>
<line x1="552.5" x2="556.0" y1="49.60" y2="49.60" stroke="#1a1a1a" stroke-width="1.1"/>
<text x="550.00" y="49.60" dy="0.29em" text-anchor="end" font-size="9" fill="#1a1a1a" stroke="#1a1a1a" font-family="Liberation Serif">0.8</text>
<line y1="153.2" y2="156.5" x1="653.40" x2="653.40" stroke="#1a1a1a" stroke-width="1.1"/>
<text x="653.40" y="166.00" text-anchor="middle" font-size="9" fill="#1a1a1a" stroke="#1a1a1a" font-family="Liberation Serif">0.8</text>
<line x1="552.5" x2="556.0" y1="23.70" y2="23.70" stroke="#1a1a1a" stroke-width="1.1"/>
<text x="550.00" y="23.70" dy="0.29em" text-anchor="end" font-size="9" fill="#1a1a1a" stroke="#1a1a1a" font-family="Liberation Serif">1.0</text>
<line y1="153.2" y2="156.5" x1="677.40" x2="677.40" stroke="#1a1a1a" stroke-width="1.1"/>
<text x="677.40" y="166.00" text-anchor="middle" font-size="9" fill="#1a1a1a" stroke="#1a1a1a" font-family="Liberation Serif">1.0</text>
<text x="616.50" y="176.50" text-anchor="middle" font-size="10.1" fill="#1a1a1a" stroke="#1a1a1a" font-family="Liberation Serif">1−Specificity (FPR)</text>
<text x="533.80" y="87.70" transform="rotate(-90 533.80 87.70)" text-anchor="middle" font-size="10.2" fill="#1a1a1a" stroke="#1a1a1a" font-family="Liberation Serif">Sensitivity (TPR)</text>
<text x="676.50" y="137.80" text-anchor="end" font-size="11.4" font-weight="bold" fill="#111" stroke="#111" font-family="Liberation Serif">AUC: 0.967</text>
<text x="676.30" y="150.80" text-anchor="end" font-size="11.5" fill="#111" stroke="#111" font-family="Liberation Serif">CI: 0.950−0.984</text>
<text x="621.60" y="14.90" text-anchor="middle" font-size="14.3" fill="#111" stroke="#111" font-family="Liberation Serif">GBM</text>
<text x="527.90" y="15.00" font-size="19.5" fill="#000" stroke="#000" font-family="Liberation Serif">D</text>
<clipPath id="cE"><rect x="58.0" y="221.3" width="122.0" height="131.0"/></clipPath>
<rect x="58.0" y="221.3" width="122.0" height="131.0" fill="#fff"/>
<g clip-path="url(#cE)"><line x1="59.40" x2="59.40" y1="221.3" y2="352.3" stroke="#e6e6e6" stroke-width="1"/><line y1="352.30" y2="352.30" x1="58.0" x2="180.0" stroke="#e6e6e6" stroke-width="1"/><line x1="71.40" x2="71.40" y1="221.3" y2="352.3" stroke="#f0f0f0" stroke-width="1"/><line y1="339.35" y2="339.35" x1="58.0" x2="180.0" stroke="#f0f0f0" stroke-width="1"/><line x1="83.40" x2="83.40" y1="221.3" y2="352.3" stroke="#e6e6e6" stroke-width="1"/><line y1="326.40" y2="326.40" x1="58.0" x2="180.0" stroke="#e6e6e6" stroke-width="1"/><line x1="95.40" x2="95.40" y1="221.3" y2="352.3" stroke="#f0f0f0" stroke-width="1"/><line y1="313.45" y2="313.45" x1="58.0" x2="180.0" stroke="#f0f0f0" stroke-width="1"/><line x1="107.40" x2="107.40" y1="221.3" y2="352.3" stroke="#e6e6e6" stroke-width="1"/><line y1="300.50" y2="300.50" x1="58.0" x2="180.0" stroke="#e6e6e6" stroke-width="1"/><line x1="119.40" x2="119.40" y1="221.3" y2="352.3" stroke="#f0f0f0" stroke-width="1"/><line y1="287.55" y2="287.55" x1="58.0" x2="180.0" stroke="#f0f0f0" stroke-width="1"/><line x1="131.40" x2="131.40" y1="221.3" y2="352.3" stroke="#e6e6e6" stroke-width="1"/><line y1="274.60" y2="274.60" x1="58.0" x2="180.0" stroke="#e6e6e6" stroke-width="1"/><line x1="143.40" x2="143.40" y1="221.3" y2="352.3" stroke="#f0f0f0" stroke-width="1"/><line y1="261.65" y2="261.65" x1="58.0" x2="180.0" stroke="#f0f0f0" stroke-width="1"/><line x1="155.40" x2="155.40" y1="221.3" y2="352.3" stroke="#e6e6e6" stroke-width="1"/><line y1="248.70" y2="248.70" x1="58.0" x2="180.0" stroke="#e6e6e6" stroke-width="1"/><line x1="167.40" x2="167.40" y1="221.3" y2="352.3" stroke="#f0f0f0" stroke-width="1"/><line y1="235.75" y2="235.75" x1="58.0" x2="180.0" stroke="#f0f0f0" stroke-width="1"/><line x1="179.40" x2="179.40" y1="221.3" y2="352.3" stroke="#e6e6e6" stroke-width="1"/><line y1="222.80" y2="222.80" x1="58.0" x2="180.0" stroke="#e6e6e6" stroke-width="1"/>
<path d="M59.40,352.30 L59.40,306.98 L59.76,290.53 L59.76,289.35 L59.82,289.35 L59.82,288.17 L59.88,288.17 L59.88,286.99 L59.94,286.99 L59.94,285.81 L60.00,285.81 L60.00,284.64 L60.06,284.64 L60.06,283.46 L60.12,283.46 L60.12,282.28 L60.18,282.28 L60.18,281.10 L60.24,281.10 L60.24,279.92 L60.30,279.92 L60.30,278.74 L60.36,278.74 L60.36,277.55 L60.44,277.55 L60.44,276.35 L60.51,276.35 L60.51,275.15 L60.59,275.15 L60.59,273.95 L60.66,273.95 L60.66,272.75 L60.73,272.75 L60.73,271.56 L60.81,271.56 L60.81,270.36 L60.88,270.36 L60.88,269.16 L60.96,269.16 L61.56,262.04 L61.56,260.80 L61.80,260.80 L61.80,259.55 L62.04,259.55 L62.04,258.31 L62.28,258.31 L62.28,257.07 L62.52,257.07 L62.52,255.82 L62.76,255.82 L62.76,254.56 L63.15,254.56 L63.15,253.30 L63.54,253.30 L63.54,252.03 L63.93,252.03 L63.93,250.77 L64.32,250.77 L64.32,249.56 L64.84,249.56 L64.84,248.35 L65.36,248.35 L65.36,247.15 L65.88,247.15 L65.88,245.89 L66.40,245.89 L66.40,244.64 L66.92,244.64 L66.92,243.39 L67.44,243.39 L67.44,242.18 L67.80,242.18 L67.80,240.97 L68.16,240.97 L68.16,239.76 L68.52,239.76 L68.52,238.40 L69.30,238.40 L69.30,237.05 L70.08,237.05 L70.08,235.75 L70.86,235.75 L70.86,234.46 L71.64,234.46 L71.64,233.81 L72.72,233.81 L72.72,233.16 L73.80,233.16 L73.80,232.64 L75.12,232.64 L75.12,232.12 L76.44,232.12 L76.44,231.69 L77.68,231.69 L77.68,231.26 L78.92,231.26 L78.92,230.83 L80.16,230.83 L80.16,230.57 L81.21,230.57 L81.21,230.31 L82.26,230.31 L82.26,230.05 L83.31,230.05 L83.31,229.79 L84.36,229.79 L84.36,229.53 L85.56,229.53 L85.56,229.28 L86.76,229.28 L86.76,229.02 L87.96,229.02 L87.96,228.63 L89.13,228.63 L89.13,228.24 L90.30,228.24 L90.30,227.85 L91.47,227.85 L91.47,227.46 L92.64,227.46 L92.64,227.20 L93.74,227.20 L93.74,226.94 L94.85,226.94 L94.85,226.69 L95.95,226.69 L95.95,226.43 L97.06,226.43 L97.06,226.17 L98.16,226.17 L98.16,226.04 L99.26,226.04 L99.26,225.91 L100.37,225.91 L100.37,225.78 L101.47,225.78 L101.47,225.65 L102.58,225.65 L102.58,225.52 L103.68,225.52 L103.68,225.39 L104.78,225.39 L104.78,225.26 L105.89,225.26 L105.89,225.13 L106.99,225.13 L106.99,225.00 L108.10,225.00 L108.10,224.87 L109.20,224.87 L116.64,224.35 L123.96,223.97 L131.40,223.71 L138.60,223.19 L145.80,222.80 L179.40,222.80 L179.40,352.30 Z" fill="#4DBBD5" fill-opacity="0.1"/>
<line x1="59.40" y1="352.30" x2="179.40" y2="222.80" stroke="#7f7f7f" stroke-width="1.3" stroke-dasharray="4.3 4.2" stroke-dashoffset="-0.9"/>
<path d="M59.40,352.30 L59.40,306.98 L59.76,290.53 L59.76,289.35 L59.82,289.35 L59.82,288.17 L59.88,288.17 L59.88,286.99 L59.94,286.99 L59.94,285.81 L60.00,285.81 L60.00,284.64 L60.06,284.64 L60.06,283.46 L60.12,283.46 L60.12,282.28 L60.18,282.28 L60.18,281.10 L60.24,281.10 L60.24,279.92 L60.30,279.92 L60.30,278.74 L60.36,278.74 L60.36,277.55 L60.44,277.55 L60.44,276.35 L60.51,276.35 L60.51,275.15 L60.59,275.15 L60.59,273.95 L60.66,273.95 L60.66,272.75 L60.73,272.75 L60.73,271.56 L60.81,271.56 L60.81,270.36 L60.88,270.36 L60.88,269.16 L60.96,269.16 L61.56,262.04 L61.56,260.80 L61.80,260.80 L61.80,259.55 L62.04,259.55 L62.04,258.31 L62.28,258.31 L62.28,257.07 L62.52,257.07 L62.52,255.82 L62.76,255.82 L62.76,254.56 L63.15,254.56 L63.15,253.30 L63.54,253.30 L63.54,252.03 L63.93,252.03 L63.93,250.77 L64.32,250.77 L64.32,249.56 L64.84,249.56 L64.84,248.35 L65.36,248.35 L65.36,247.15 L65.88,247.15 L65.88,245.89 L66.40,245.89 L66.40,244.64 L66.92,244.64 L66.92,243.39 L67.44,243.39 L67.44,242.18 L67.80,242.18 L67.80,240.97 L68.16,240.97 L68.16,239.76 L68.52,239.76 L68.52,238.40 L69.30,238.40 L69.30,237.05 L70.08,237.05 L70.08,235.75 L70.86,235.75 L70.86,234.46 L71.64,234.46 L71.64,233.81 L72.72,233.81 L72.72,233.16 L73.80,233.16 L73.80,232.64 L75.12,232.64 L75.12,232.12 L76.44,232.12 L76.44,231.69 L77.68,231.69 L77.68,231.26 L78.92,231.26 L78.92,230.83 L80.16,230.83 L80.16,230.57 L81.21,230.57 L81.21,230.31 L82.26,230.31 L82.26,230.05 L83.31,230.05 L83.31,229.79 L84.36,229.79 L84.36,229.53 L85.56,229.53 L85.56,229.28 L86.76,229.28 L86.76,229.02 L87.96,229.02 L87.96,228.63 L89.13,228.63 L89.13,228.24 L90.30,228.24 L90.30,227.85 L91.47,227.85 L91.47,227.46 L92.64,227.46 L92.64,227.20 L93.74,227.20 L93.74,226.94 L94.85,226.94 L94.85,226.69 L95.95,226.69 L95.95,226.43 L97.06,226.43 L97.06,226.17 L98.16,226.17 L98.16,226.04 L99.26,226.04 L99.26,225.91 L100.37,225.91 L100.37,225.78 L101.47,225.78 L101.47,225.65 L102.58,225.65 L102.58,225.52 L103.68,225.52 L103.68,225.39 L104.78,225.39 L104.78,225.26 L105.89,225.26 L105.89,225.13 L106.99,225.13 L106.99,225.00 L108.10,225.00 L108.10,224.87 L109.20,224.87 L116.64,224.35 L123.96,223.97 L131.40,223.71 L138.60,223.19 L145.80,222.80 L179.40,222.80" fill="none" stroke="#4DBBD5" stroke-width="1.25" stroke-linejoin="round"/>
</g>
<rect x="58.0" y="221.3" width="122.0" height="131.0" fill="none" stroke="#1e1e1e" stroke-width="1.5"/>
<line x1="54.5" x2="58.0" y1="352.30" y2="352.30" stroke="#1a1a1a" stroke-width="1.1"/>
<text x="52.00" y="352.30" dy="0.29em" text-anchor="end" font-size="9" fill="#1a1a1a" stroke="#1a1a1a" font-family="Liberation Serif">0.0</text>
<line y1="352.3" y2="355.6" x1="59.40" x2="59.40" stroke="#1a1a1a" stroke-width="1.1"/>
<text x="59.40" y="365.60" text-anchor="middle" font-size="9" fill="#1a1a1a" stroke="#1a1a1a" font-family="Liberation Serif">0.0</text>
<line x1="54.5" x2="58.0" y1="326.40" y2="326.40" stroke="#1a1a1a" stroke-width="1.1"/>
<text x="52.00" y="326.40" dy="0.29em" text-anchor="end" font-size="9" fill="#1a1a1a" stroke="#1a1a1a" font-family="Liberation Serif">0.2</text>
<line y1="352.3" y2="355.6" x1="83.40" x2="83.40" stroke="#1a1a1a" stroke-width="1.1"/>
<text x="83.40" y="365.60" text-anchor="middle" font-size="9" fill="#1a1a1a" stroke="#1a1a1a" font-family="Liberation Serif">0.2</text>
<line x1="54.5" x2="58.0" y1="300.50" y2="300.50" stroke="#1a1a1a" stroke-width="1.1"/>
<text x="52.00" y="300.50" dy="0.29em" text-anchor="end" font-size="9" fill="#1a1a1a" stroke="#1a1a1a" font-family="Liberation Serif">0.4</text>
<line y1="352.3" y2="355.6" x1="107.40" x2="107.40" stroke="#1a1a1a" stroke-width="1.1"/>
<text x="107.40" y="365.60" text-anchor="middle" font-size="9" fill="#1a1a1a" stroke="#1a1a1a" font-family="Liberation Serif">0.4</text>
<line x1="54.5" x2="58.0" y1="274.60" y2="274.60" stroke="#1a1a1a" stroke-width="1.1"/>
<text x="52.00" y="274.60" dy="0.29em" text-anchor="end" font-size="9" fill="#1a1a1a" stroke="#1a1a1a" font-family="Liberation Serif">0.6</text>
<line y1="352.3" y2="355.6" x1="131.40" x2="131.40" stroke="#1a1a1a" stroke-width="1.1"/>
<text x="131.40" y="365.60" text-anchor="middle" font-size="9" fill="#1a1a1a" stroke="#1a1a1a" font-family="Liberation Serif">0.6</text>
<line x1="54.5" x2="58.0" y1="248.70" y2="248.70" stroke="#1a1a1a" stroke-width="1.1"/>
<text x="52.00" y="248.70" dy="0.29em" text-anchor="end" font-size="9" fill="#1a1a1a" stroke="#1a1a1a" font-family="Liberation Serif">0.8</text>
<line y1="352.3" y2="355.6" x1="155.40" x2="155.40" stroke="#1a1a1a" stroke-width="1.1"/>
<text x="155.40" y="365.60" text-anchor="middle" font-size="9" fill="#1a1a1a" stroke="#1a1a1a" font-family="Liberation Serif">0.8</text>
<line x1="54.5" x2="58.0" y1="222.80" y2="222.80" stroke="#1a1a1a" stroke-width="1.1"/>
<text x="52.00" y="222.80" dy="0.29em" text-anchor="end" font-size="9" fill="#1a1a1a" stroke="#1a1a1a" font-family="Liberation Serif">1.0</text>
<line y1="352.3" y2="355.6" x1="179.40" x2="179.40" stroke="#1a1a1a" stroke-width="1.1"/>
<text x="179.40" y="365.60" text-anchor="middle" font-size="9" fill="#1a1a1a" stroke="#1a1a1a" font-family="Liberation Serif">1.0</text>
<text x="118.50" y="376.20" text-anchor="middle" font-size="10.1" fill="#1a1a1a" stroke="#1a1a1a" font-family="Liberation Serif">1−Specificity (FPR)</text>
<text x="35.80" y="286.80" transform="rotate(-90 35.80 286.80)" text-anchor="middle" font-size="10.2" fill="#1a1a1a" stroke="#1a1a1a" font-family="Liberation Serif">Sensitivity (TPR)</text>
<text x="176.90" y="336.90" text-anchor="end" font-size="11.4" font-weight="bold" fill="#111" stroke="#111" font-family="Liberation Serif">AUC: 0.958</text>
<text x="176.70" y="349.90" text-anchor="end" font-size="11.5" fill="#111" stroke="#111" font-family="Liberation Serif">CI: 0.948−0.968</text>
<text x="119.50" y="217.00" text-anchor="middle" font-size="14.3" fill="#111" stroke="#111" font-family="Liberation Serif">LGG</text>
<text x="4.00" y="217.00" font-size="19.5" fill="#000" stroke="#000" font-family="Liberation Serif">E</text>
<clipPath id="cF"><rect x="224.6" y="221.3" width="122.0" height="131.0"/></clipPath>
<rect x="224.6" y="221.3" width="122.0" height="131.0" fill="#fff"/>
<g clip-path="url(#cF)"><line x1="226.00" x2="226.00" y1="221.3" y2="352.3" stroke="#e6e6e6" stroke-width="1"/><line y1="352.30" y2="352.30" x1="224.6" x2="346.6" stroke="#e6e6e6" stroke-width="1"/><line x1="238.00" x2="238.00" y1="221.3" y2="352.3" stroke="#f0f0f0" stroke-width="1"/><line y1="339.35" y2="339.35" x1="224.6" x2="346.6" stroke="#f0f0f0" stroke-width="1"/><line x1="250.00" x2="250.00" y1="221.3" y2="352.3" stroke="#e6e6e6" stroke-width="1"/><line y1="326.40" y2="326.40" x1="224.6" x2="346.6" stroke="#e6e6e6" stroke-width="1"/><line x1="262.00" x2="262.00" y1="221.3" y2="352.3" stroke="#f0f0f0" stroke-width="1"/><line y1="313.45" y2="313.45" x1="224.6" x2="346.6" stroke="#f0f0f0" stroke-width="1"/><line x1="274.00" x2="274.00" y1="221.3" y2="352.3" stroke="#e6e6e6" stroke-width="1"/><line y1="300.50" y2="300.50" x1="224.6" x2="346.6" stroke="#e6e6e6" stroke-width="1"/><line x1="286.00" x2="286.00" y1="221.3" y2="352.3" stroke="#f0f0f0" stroke-width="1"/><line y1="287.55" y2="287.55" x1="224.6" x2="346.6" stroke="#f0f0f0" stroke-width="1"/><line x1="298.00" x2="298.00" y1="221.3" y2="352.3" stroke="#e6e6e6" stroke-width="1"/><line y1="274.60" y2="274.60" x1="224.6" x2="346.6" stroke="#e6e6e6" stroke-width="1"/><line x1="310.00" x2="310.00" y1="221.3" y2="352.3" stroke="#f0f0f0" stroke-width="1"/><line y1="261.65" y2="261.65" x1="224.6" x2="346.6" stroke="#f0f0f0" stroke-width="1"/><line x1="322.00" x2="322.00" y1="221.3" y2="352.3" stroke="#e6e6e6" stroke-width="1"/><line y1="248.70" y2="248.70" x1="224.6" x2="346.6" stroke="#e6e6e6" stroke-width="1"/><line x1="334.00" x2="334.00" y1="221.3" y2="352.3" stroke="#f0f0f0" stroke-width="1"/><line y1="235.75" y2="235.75" x1="224.6" x2="346.6" stroke="#f0f0f0" stroke-width="1"/><line x1="346.00" x2="346.00" y1="221.3" y2="352.3" stroke="#e6e6e6" stroke-width="1"/><line y1="222.80" y2="222.80" x1="224.6" x2="346.6" stroke="#e6e6e6" stroke-width="1"/>
<path d="M226.00,352.30 L226.60,340.65 L227.08,309.56 L227.44,287.55 L227.56,262.95 L228.04,256.47 L228.52,251.94 L228.52,250.56 L228.76,250.56 L228.76,249.17 L229.00,249.17 L229.00,247.79 L229.24,247.79 L229.24,246.54 L229.64,246.54 L229.64,245.29 L230.04,245.29 L230.04,244.04 L230.44,244.04 L230.44,242.35 L232.24,242.35 L232.24,241.45 L233.92,241.45 L234.40,239.63 L234.64,236.66 L235.00,234.07 L235.00,233.03 L236.80,233.03 L236.80,231.93 L238.18,231.93 L238.18,230.83 L239.56,230.83 L239.56,230.12 L241.00,230.12 L241.00,229.40 L242.44,229.40 L246.04,229.02 L246.04,228.63 L247.28,228.63 L247.28,228.24 L248.52,228.24 L248.52,227.85 L249.76,227.85 L249.76,227.63 L251.28,227.63 L251.28,227.42 L252.80,227.42 L252.80,227.20 L254.32,227.20 L254.32,227.10 L255.62,227.10 L255.62,226.99 L256.92,226.99 L256.92,226.88 L258.22,226.88 L258.22,226.77 L259.52,226.77 L259.52,226.66 L260.82,226.66 L260.82,226.56 L262.12,226.56 L322.00,226.56 L322.00,225.65 L323.20,225.65 L323.20,225.43 L324.52,225.43 L324.52,225.22 L325.84,225.22 L325.84,225.00 L327.16,225.00 L336.40,224.48 L336.40,224.24 L337.77,224.24 L337.77,224.00 L339.14,224.00 L339.14,223.76 L340.51,223.76 L340.51,223.52 L341.89,223.52 L341.89,223.28 L343.26,223.28 L343.26,223.04 L344.63,223.04 L344.63,222.80 L346.00,222.80 L346.00,352.30 Z" fill="#4DBBD5" fill-opacity="0.1"/>
<line x1="226.00" y1="352.30" x2="346.00" y2="222.80" stroke="#7f7f7f" stroke-width="1.3" stroke-dasharray="4.3 4.2" stroke-dashoffset="-0.9"/>
<path d="M226.00,352.30 L226.60,340.65 L227.08,309.56 L227.44,287.55 L227.56,262.95 L228.04,256.47 L228.52,251.94 L228.52,250.56 L228.76,250.56 L228.76,249.17 L229.00,249.17 L229.00,247.79 L229.24,247.79 L229.24,246.54 L229.64,246.54 L229.64,245.29 L230.04,245.29 L230.04,244.04 L230.44,244.04 L230.44,242.35 L232.24,242.35 L232.24,241.45 L233.92,241.45 L234.40,239.63 L234.64,236.66 L235.00,234.07 L235.00,233.03 L236.80,233.03 L236.80,231.93 L238.18,231.93 L238.18,230.83 L239.56,230.83 L239.56,230.12 L241.00,230.12 L241.00,229.40 L242.44,229.40 L246.04,229.02 L246.04,228.63 L247.28,228.63 L247.28,228.24 L248.52,228.24 L248.52,227.85 L249.76,227.85 L249.76,227.63 L251.28,227.63 L251.28,227.42 L252.80,227.42 L252.80,227.20 L254.32,227.20 L254.32,227.10 L255.62,227.10 L255.62,226.99 L256.92,226.99 L256.92,226.88 L258.22,226.88 L258.22,226.77 L259.52,226.77 L259.52,226.66 L260.82,226.66 L260.82,226.56 L262.12,226.56 L322.00,226.56 L322.00,225.65 L323.20,225.65 L323.20,225.43 L324.52,225.43 L324.52,225.22 L325.84,225.22 L325.84,225.00 L327.16,225.00 L336.40,224.48 L336.40,224.24 L337.77,224.24 L337.77,224.00 L339.14,224.00 L339.14,223.76 L340.51,223.76 L340.51,223.52 L341.89,223.52 L341.89,223.28 L343.26,223.28 L343.26,223.04 L344.63,223.04 L344.63,222.80 L346.00,222.80" fill="none" stroke="#4DBBD5" stroke-width="1.25" stroke-linejoin="round"/>
</g>
<rect x="224.6" y="221.3" width="122.0" height="131.0" fill="none" stroke="#1e1e1e" stroke-width="1.5"/>
<line x1="221.1" x2="224.6" y1="352.30" y2="352.30" stroke="#1a1a1a" stroke-width="1.1"/>
<text x="218.60" y="352.30" dy="0.29em" text-anchor="end" font-size="9" fill="#1a1a1a" stroke="#1a1a1a" font-family="Liberation Serif">0.0</text>
<line y1="352.3" y2="355.6" x1="226.00" x2="226.00" stroke="#1a1a1a" stroke-width="1.1"/>
<text x="226.00" y="365.60" text-anchor="middle" font-size="9" fill="#1a1a1a" stroke="#1a1a1a" font-family="Liberation Serif">0.0</text>
<line x1="221.1" x2="224.6" y1="326.40" y2="326.40" stroke="#1a1a1a" stroke-width="1.1"/>
<text x="218.60" y="326.40" dy="0.29em" text-anchor="end" font-size="9" fill="#1a1a1a" stroke="#1a1a1a" font-family="Liberation Serif">0.2</text>
<line y1="352.3" y2="355.6" x1="250.00" x2="250.00" stroke="#1a1a1a" stroke-width="1.1"/>
<text x="250.00" y="365.60" text-anchor="middle" font-size="9" fill="#1a1a1a" stroke="#1a1a1a" font-family="Liberation Serif">0.2</text>
<line x1="221.1" x2="224.6" y1="300.50" y2="300.50" stroke="#1a1a1a" stroke-width="1.1"/>
<text x="218.60" y="300.50" dy="0.29em" text-anchor="end" font-size="9" fill="#1a1a1a" stroke="#1a1a1a" font-family="Liberation Serif">0.4</text>
<line y1="352.3" y2="355.6" x1="274.00" x2="274.00" stroke="#1a1a1a" stroke-width="1.1"/>
<text x="274.00" y="365.60" text-anchor="middle" font-size="9" fill="#1a1a1a" stroke="#1a1a1a" font-family="Liberation Serif">0.4</text>
<line x1="221.1" x2="224.6" y1="274.60" y2="274.60" stroke="#1a1a1a" stroke-width="1.1"/>
<text x="218.60" y="274.60" dy="0.29em" text-anchor="end" font-size="9" fill="#1a1a1a" stroke="#1a1a1a" font-family="Liberation Serif">0.6</text>
<line y1="352.3" y2="355.6" x1="298.00" x2="298.00" stroke="#1a1a1a" stroke-width="1.1"/>
<text x="298.00" y="365.60" text-anchor="middle" font-size="9" fill="#1a1a1a" stroke="#1a1a1a" font-family="Liberation Serif">0.6</text>
<line x1="221.1" x2="224.6" y1="248.70" y2="248.70" stroke="#1a1a1a" stroke-width="1.1"/>
<text x="218.60" y="248.70" dy="0.29em" text-anchor="end" font-size="9" fill="#1a1a1a" stroke="#1a1a1a" font-family="Liberation Serif">0.8</text>
<line y1="352.3" y2="355.6" x1="322.00" x2="322.00" stroke="#1a1a1a" stroke-width="1.1"/>
<text x="322.00" y="365.60" text-anchor="middle" font-size="9" fill="#1a1a1a" stroke="#1a1a1a" font-family="Liberation Serif">0.8</text>
<line x1="221.1" x2="224.6" y1="222.80" y2="222.80" stroke="#1a1a1a" stroke-width="1.1"/>
<text x="218.60" y="222.80" dy="0.29em" text-anchor="end" font-size="9" fill="#1a1a1a" stroke="#1a1a1a" font-family="Liberation Serif">1.0</text>
<line y1="352.3" y2="355.6" x1="346.00" x2="346.00" stroke="#1a1a1a" stroke-width="1.1"/>
<text x="346.00" y="365.60" text-anchor="middle" font-size="9" fill="#1a1a1a" stroke="#1a1a1a" font-family="Liberation Serif">1.0</text>
<text x="285.10" y="376.20" text-anchor="middle" font-size="10.1" fill="#1a1a1a" stroke="#1a1a1a" font-family="Liberation Serif">1−Specificity (FPR)</text>
<text x="202.40" y="286.80" transform="rotate(-90 202.40 286.80)" text-anchor="middle" font-size="10.2" fill="#1a1a1a" stroke="#1a1a1a" font-family="Liberation Serif">Sensitivity (TPR)</text>
<text x="345.10" y="336.90" text-anchor="end" font-size="11.4" font-weight="bold" fill="#111" stroke="#111" font-family="Liberation Serif">AUC: 0.947</text>
<text x="344.90" y="349.90" text-anchor="end" font-size="11.5" fill="#111" stroke="#111" font-family="Liberation Serif">CI: 0.919−0.975</text>
<text x="285.20" y="217.00" text-anchor="middle" font-size="14.3" fill="#111" stroke="#111" font-family="Liberation Serif">PAAD</text>
<text x="196.10" y="217.00" font-size="19.5" fill="#000" stroke="#000" font-family="Liberation Serif">F</text>
<clipPath id="cG"><rect x="391.0" y="221.3" width="122.0" height="131.0"/></clipPath>
<rect x="391.0" y="221.3" width="122.0" height="131.0" fill="#fff"/>
<g clip-path="url(#cG)"><line x1="392.40" x2="392.40" y1="221.3" y2="352.3" stroke="#e6e6e6" stroke-width="1"/><line y1="352.30" y2="352.30" x1="391.0" x2="513.0" stroke="#e6e6e6" stroke-width="1"/><line x1="404.40" x2="404.40" y1="221.3" y2="352.3" stroke="#f0f0f0" stroke-width="1"/><line y1="339.35" y2="339.35" x1="391.0" x2="513.0" stroke="#f0f0f0" stroke-width="1"/><line x1="416.40" x2="416.40" y1="221.3" y2="352.3" stroke="#e6e6e6" stroke-width="1"/><line y1="326.40" y2="326.40" x1="391.0" x2="513.0" stroke="#e6e6e6" stroke-width="1"/><line x1="428.40" x2="428.40" y1="221.3" y2="352.3" stroke="#f0f0f0" stroke-width="1"/><line y1="313.45" y2="313.45" x1="391.0" x2="513.0" stroke="#f0f0f0" stroke-width="1"/><line x1="440.40" x2="440.40" y1="221.3" y2="352.3" stroke="#e6e6e6" stroke-width="1"/><line y1="300.50" y2="300.50" x1="391.0" x2="513.0" stroke="#e6e6e6" stroke-width="1"/><line x1="452.40" x2="452.40" y1="221.3" y2="352.3" stroke="#f0f0f0" stroke-width="1"/><line y1="287.55" y2="287.55" x1="391.0" x2="513.0" stroke="#f0f0f0" stroke-width="1"/><line x1="464.40" x2="464.40" y1="221.3" y2="352.3" stroke="#e6e6e6" stroke-width="1"/><line y1="274.60" y2="274.60" x1="391.0" x2="513.0" stroke="#e6e6e6" stroke-width="1"/><line x1="476.40" x2="476.40" y1="221.3" y2="352.3" stroke="#f0f0f0" stroke-width="1"/><line y1="261.65" y2="261.65" x1="391.0" x2="513.0" stroke="#f0f0f0" stroke-width="1"/><line x1="488.40" x2="488.40" y1="221.3" y2="352.3" stroke="#e6e6e6" stroke-width="1"/><line y1="248.70" y2="248.70" x1="391.0" x2="513.0" stroke="#e6e6e6" stroke-width="1"/><line x1="500.40" x2="500.40" y1="221.3" y2="352.3" stroke="#f0f0f0" stroke-width="1"/><line y1="235.75" y2="235.75" x1="391.0" x2="513.0" stroke="#f0f0f0" stroke-width="1"/><line x1="512.40" x2="512.40" y1="221.3" y2="352.3" stroke="#e6e6e6" stroke-width="1"/><line y1="222.80" y2="222.80" x1="391.0" x2="513.0" stroke="#e6e6e6" stroke-width="1"/>
<path d="M392.40,352.30 L392.88,313.45 L393.24,295.06 L393.24,288.46 L393.24,286.38 L393.51,286.38 L393.51,284.31 L393.78,284.31 L393.78,282.24 L394.05,282.24 L394.05,280.17 L394.32,280.17 L394.32,277.87 L394.65,277.87 L394.65,275.57 L394.98,275.57 L394.98,273.27 L395.31,273.27 L395.31,270.97 L395.64,270.97 L395.64,269.16 L396.84,269.16 L396.84,268.25 L399.24,268.25 L399.24,266.44 L400.20,266.44 L400.56,262.82 L400.56,261.52 L402.00,261.52 L402.00,259.97 L404.76,259.97 L404.76,259.06 L406.08,259.06 L406.68,254.53 L406.68,253.49 L409.44,253.49 L409.44,252.33 L411.36,252.33 L411.36,250.64 L412.20,250.64 L412.20,248.96 L413.04,248.96 L413.04,247.15 L413.94,247.15 L413.94,245.33 L414.84,245.33 L414.84,243.26 L415.62,243.26 L415.62,241.19 L416.40,241.19 L416.40,237.95 L417.72,237.95 L417.72,236.40 L420.12,236.40 L420.12,233.29 L421.44,233.29 L421.44,231.41 L422.10,231.41 L422.10,229.53 L422.76,229.53 L422.76,227.72 L423.66,227.72 L423.66,225.91 L424.56,225.91 L424.56,224.09 L425.64,224.09 L446.04,224.09 L446.04,222.80 L447.12,222.80 L512.40,222.80 L512.40,352.30 Z" fill="#4DBBD5" fill-opacity="0.1"/>
<line x1="392.40" y1="352.30" x2="512.40" y2="222.80" stroke="#7f7f7f" stroke-width="1.3" stroke-dasharray="4.3 4.2" stroke-dashoffset="-0.9"/>
<path d="M392.40,352.30 L392.88,313.45 L393.24,295.06 L393.24,288.46 L393.24,286.38 L393.51,286.38 L393.51,284.31 L393.78,284.31 L393.78,282.24 L394.05,282.24 L394.05,280.17 L394.32,280.17 L394.32,277.87 L394.65,277.87 L394.65,275.57 L394.98,275.57 L394.98,273.27 L395.31,273.27 L395.31,270.97 L395.64,270.97 L395.64,269.16 L396.84,269.16 L396.84,268.25 L399.24,268.25 L399.24,266.44 L400.20,266.44 L400.56,262.82 L400.56,261.52 L402.00,261.52 L402.00,259.97 L404.76,259.97 L404.76,259.06 L406.08,259.06 L406.68,254.53 L406.68,253.49 L409.44,253.49 L409.44,252.33 L411.36,252.33 L411.36,250.64 L412.20,250.64 L412.20,248.96 L413.04,248.96 L413.04,247.15 L413.94,247.15 L413.94,245.33 L414.84,245.33 L414.84,243.26 L415.62,243.26 L415.62,241.19 L416.40,241.19 L416.40,237.95 L417.72,237.95 L417.72,236.40 L420.12,236.40 L420.12,233.29 L421.44,233.29 L421.44,231.41 L422.10,231.41 L422.10,229.53 L422.76,229.53 L422.76,227.72 L423.66,227.72 L423.66,225.91 L424.56,225.91 L424.56,224.09 L425.64,224.09 L446.04,224.09 L446.04,222.80 L447.12,222.80 L512.40,222.80" fill="none" stroke="#4DBBD5" stroke-width="1.25" stroke-linejoin="round"/>
</g>
<rect x="391.0" y="221.3" width="122.0" height="131.0" fill="none" stroke="#1e1e1e" stroke-width="1.5"/>
<line x1="387.5" x2="391.0" y1="352.30" y2="352.30" stroke="#1a1a1a" stroke-width="1.1"/>
<text x="385.00" y="352.30" dy="0.29em" text-anchor="end" font-size="9" fill="#1a1a1a" stroke="#1a1a1a" font-family="Liberation Serif">0.0</text>
<line y1="352.3" y2="355.6" x1="392.40" x2="392.40" stroke="#1a1a1a" stroke-width="1.1"/>
<text x="392.40" y="365.60" text-anchor="middle" font-size="9" fill="#1a1a1a" stroke="#1a1a1a" font-family="Liberation Serif">0.0</text>
<line x1="387.5" x2="391.0" y1="326.40" y2="326.40" stroke="#1a1a1a" stroke-width="1.1"/>
<text x="385.00" y="326.40" dy="0.29em" text-anchor="end" font-size="9" fill="#1a1a1a" stroke="#1a1a1a" font-family="Liberation Serif">0.2</text>
<line y1="352.3" y2="355.6" x1="416.40" x2="416.40" stroke="#1a1a1a" stroke-width="1.1"/>
<text x="416.40" y="365.60" text-anchor="middle" font-size="9" fill="#1a1a1a" stroke="#1a1a1a" font-family="Liberation Serif">0.2</text>
<line x1="387.5" x2="391.0" y1="300.50" y2="300.50" stroke="#1a1a1a" stroke-width="1.1"/>
<text x="385.00" y="300.50" dy="0.29em" text-anchor="end" font-size="9" fill="#1a1a1a" stroke="#1a1a1a" font-family="Liberation Serif">0.4</text>
<line y1="352.3" y2="355.6" x1="440.40" x2="440.40" stroke="#1a1a1a" stroke-width="1.1"/>
<text x="440.40" y="365.60" text-anchor="middle" font-size="9" fill="#1a1a1a" stroke="#1a1a1a" font-family="Liberation Serif">0.4</text>
<line x1="387.5" x2="391.0" y1="274.60" y2="274.60" stroke="#1a1a1a" stroke-width="1.1"/>
<text x="385.00" y="274.60" dy="0.29em" text-anchor="end" font-size="9" fill="#1a1a1a" stroke="#1a1a1a" font-family="Liberation Serif">0.6</text>
<line y1="352.3" y2="355.6" x1="464.40" x2="464.40" stroke="#1a1a1a" stroke-width="1.1"/>
<text x="464.40" y="365.60" text-anchor="middle" font-size="9" fill="#1a1a1a" stroke="#1a1a1a" font-family="Liberation Serif">0.6</text>
<line x1="387.5" x2="391.0" y1="248.70" y2="248.70" stroke="#1a1a1a" stroke-width="1.1"/>
<text x="385.00" y="248.70" dy="0.29em" text-anchor="end" font-size="9" fill="#1a1a1a" stroke="#1a1a1a" font-family="Liberation Serif">0.8</text>
<line y1="352.3" y2="355.6" x1="488.40" x2="488.40" stroke="#1a1a1a" stroke-width="1.1"/>
<text x="488.40" y="365.60" text-anchor="middle" font-size="9" fill="#1a1a1a" stroke="#1a1a1a" font-family="Liberation Serif">0.8</text>
<line x1="387.5" x2="391.0" y1="222.80" y2="222.80" stroke="#1a1a1a" stroke-width="1.1"/>
<text x="385.00" y="222.80" dy="0.29em" text-anchor="end" font-size="9" fill="#1a1a1a" stroke="#1a1a1a" font-family="Liberation Serif">1.0</text>
<line y1="352.3" y2="355.6" x1="512.40" x2="512.40" stroke="#1a1a1a" stroke-width="1.1"/>
<text x="512.40" y="365.60" text-anchor="middle" font-size="9" fill="#1a1a1a" stroke="#1a1a1a" font-family="Liberation Serif">1.0</text>
<text x="451.50" y="376.20" text-anchor="middle" font-size="10.1" fill="#1a1a1a" stroke="#1a1a1a" font-family="Liberation Serif">1−Specificity (FPR)</text>
<text x="368.80" y="286.80" transform="rotate(-90 368.80 286.80)" text-anchor="middle" font-size="10.2" fill="#1a1a1a" stroke="#1a1a1a" font-family="Liberation Serif">Sensitivity (TPR)</text>
<text x="511.50" y="336.90" text-anchor="end" font-size="11.4" font-weight="bold" fill="#111" stroke="#111" font-family="Liberation Serif">AUC: 0.930</text>
<text x="511.30" y="349.90" text-anchor="end" font-size="11.5" fill="#111" stroke="#111" font-family="Liberation Serif">CI: 0.909−0.951</text>
<text x="453.00" y="217.00" text-anchor="middle" font-size="14.3" fill="#111" stroke="#111" font-family="Liberation Serif">THYM</text>
<text x="367.20" y="217.00" font-size="19.5" fill="#000" stroke="#000" font-family="Liberation Serif">G</text>
<clipPath id="cH"><rect x="554.5" y="221.3" width="122.0" height="131.0"/></clipPath>
<rect x="554.5" y="221.3" width="122.0" height="131.0" fill="#fff"/>
<g clip-path="url(#cH)"><line x1="555.90" x2="555.90" y1="221.3" y2="352.3" stroke="#e6e6e6" stroke-width="1"/><line y1="352.30" y2="352.30" x1="554.5" x2="676.5" stroke="#e6e6e6" stroke-width="1"/><line x1="567.90" x2="567.90" y1="221.3" y2="352.3" stroke="#f0f0f0" stroke-width="1"/><line y1="339.35" y2="339.35" x1="554.5" x2="676.5" stroke="#f0f0f0" stroke-width="1"/><line x1="579.90" x2="579.90" y1="221.3" y2="352.3" stroke="#e6e6e6" stroke-width="1"/><line y1="326.40" y2="326.40" x1="554.5" x2="676.5" stroke="#e6e6e6" stroke-width="1"/><line x1="591.90" x2="591.90" y1="221.3" y2="352.3" stroke="#f0f0f0" stroke-width="1"/><line y1="313.45" y2="313.45" x1="554.5" x2="676.5" stroke="#f0f0f0" stroke-width="1"/><line x1="603.90" x2="603.90" y1="221.3" y2="352.3" stroke="#e6e6e6" stroke-width="1"/><line y1="300.50" y2="300.50" x1="554.5" x2="676.5" stroke="#e6e6e6" stroke-width="1"/><line x1="615.90" x2="615.90" y1="221.3" y2="352.3" stroke="#f0f0f0" stroke-width="1"/><line y1="287.55" y2="287.55" x1="554.5" x2="676.5" stroke="#f0f0f0" stroke-width="1"/><line x1="627.90" x2="627.90" y1="221.3" y2="352.3" stroke="#e6e6e6" stroke-width="1"/><line y1="274.60" y2="274.60" x1="554.5" x2="676.5" stroke="#e6e6e6" stroke-width="1"/><line x1="639.90" x2="639.90" y1="221.3" y2="352.3" stroke="#f0f0f0" stroke-width="1"/><line y1="261.65" y2="261.65" x1="554.5" x2="676.5" stroke="#f0f0f0" stroke-width="1"/><line x1="651.90" x2="651.90" y1="221.3" y2="352.3" stroke="#e6e6e6" stroke-width="1"/><line y1="248.70" y2="248.70" x1="554.5" x2="676.5" stroke="#e6e6e6" stroke-width="1"/><line x1="663.90" x2="663.90" y1="221.3" y2="352.3" stroke="#f0f0f0" stroke-width="1"/><line y1="235.75" y2="235.75" x1="554.5" x2="676.5" stroke="#f0f0f0" stroke-width="1"/><line x1="675.90" x2="675.90" y1="221.3" y2="352.3" stroke="#e6e6e6" stroke-width="1"/><line y1="222.80" y2="222.80" x1="554.5" x2="676.5" stroke="#e6e6e6" stroke-width="1"/>
<path d="M555.90,352.30 L555.90,318.63 L559.50,318.63 L559.50,300.24 L562.86,300.24 L562.86,298.82 L566.70,298.82 L566.70,297.52 L570.66,297.52 L570.66,295.84 L574.14,295.84 L574.14,292.86 L578.70,292.86 L578.70,281.59 L583.86,281.59 L583.86,280.56 L586.26,280.56 L586.26,277.84 L589.26,277.84 L589.26,277.06 L592.98,277.06 L592.98,276.02 L593.58,276.02 L593.58,269.68 L597.30,269.68 L597.30,268.77 L597.66,268.77 L597.66,263.07 L600.42,263.07 L600.42,245.59 L604.14,245.59 L604.14,244.30 L612.42,244.30 L612.42,242.87 L612.66,242.87 L612.66,241.06 L615.66,241.06 L615.66,240.80 L616.38,240.80 L616.38,237.82 L619.38,237.82 L619.38,237.05 L620.10,237.05 L620.10,235.23 L625.26,235.23 L625.26,234.71 L627.90,234.71 L627.90,233.81 L630.90,233.81 L630.90,233.03 L631.38,233.03 L631.38,231.22 L635.82,231.22 L635.82,230.18 L640.14,230.18 L640.14,229.28 L646.26,229.28 L646.26,228.11 L646.74,228.11 L646.74,226.81 L656.82,226.81 L656.82,225.91 L657.78,225.91 L657.78,224.61 L664.74,224.61 L664.74,224.22 L665.58,224.22 L665.58,223.58 L675.90,223.58 L675.90,222.80 L675.90,352.30 Z" fill="#4DBBD5" fill-opacity="0.1"/>
<line x1="555.90" y1="352.30" x2="675.90" y2="222.80" stroke="#7f7f7f" stroke-width="1.3" stroke-dasharray="4.3 4.2" stroke-dashoffset="-0.9"/>
<path d="M555.90,352.30 L555.90,318.63 L559.50,318.63 L559.50,300.24 L562.86,300.24 L562.86,298.82 L566.70,298.82 L566.70,297.52 L570.66,297.52 L570.66,295.84 L574.14,295.84 L574.14,292.86 L578.70,292.86 L578.70,281.59 L583.86,281.59 L583.86,280.56 L586.26,280.56 L586.26,277.84 L589.26,277.84 L589.26,277.06 L592.98,277.06 L592.98,276.02 L593.58,276.02 L593.58,269.68 L597.30,269.68 L597.30,268.77 L597.66,268.77 L597.66,263.07 L600.42,263.07 L600.42,245.59 L604.14,245.59 L604.14,244.30 L612.42,244.30 L612.42,242.87 L612.66,242.87 L612.66,241.06 L615.66,241.06 L615.66,240.80 L616.38,240.80 L616.38,237.82 L619.38,237.82 L619.38,237.05 L620.10,237.05 L620.10,235.23 L625.26,235.23 L625.26,234.71 L627.90,234.71 L627.90,233.81 L630.90,233.81 L630.90,233.03 L631.38,233.03 L631.38,231.22 L635.82,231.22 L635.82,230.18 L640.14,230.18 L640.14,229.28 L646.26,229.28 L646.26,228.11 L646.74,228.11 L646.74,226.81 L656.82,226.81 L656.82,225.91 L657.78,225.91 L657.78,224.61 L664.74,224.61 L664.74,224.22 L665.58,224.22 L665.58,223.58 L675.90,223.58 L675.90,222.80" fill="none" stroke="#4DBBD5" stroke-width="1.25" stroke-linejoin="round"/>
</g>
<rect x="554.5" y="221.3" width="122.0" height="131.0" fill="none" stroke="#1e1e1e" stroke-width="1.5"/>
<line x1="551.0" x2="554.5" y1="352.30" y2="352.30" stroke="#1a1a1a" stroke-width="1.1"/>
<text x="548.50" y="352.30" dy="0.29em" text-anchor="end" font-size="9" fill="#1a1a1a" stroke="#1a1a1a" font-family="Liberation Serif">0.0</text>
<line y1="352.3" y2="355.6" x1="555.90" x2="555.90" stroke="#1a1a1a" stroke-width="1.1"/>
<text x="555.90" y="365.60" text-anchor="middle" font-size="9" fill="#1a1a1a" stroke="#1a1a1a" font-family="Liberation Serif">0.0</text>
<line x1="551.0" x2="554.5" y1="326.40" y2="326.40" stroke="#1a1a1a" stroke-width="1.1"/>
<text x="548.50" y="326.40" dy="0.29em" text-anchor="end" font-size="9" fill="#1a1a1a" stroke="#1a1a1a" font-family="Liberation Serif">0.2</text>
<line y1="352.3" y2="355.6" x1="579.90" x2="579.90" stroke="#1a1a1a" stroke-width="1.1"/>
<text x="579.90" y="365.60" text-anchor="middle" font-size="9" fill="#1a1a1a" stroke="#1a1a1a" font-family="Liberation Serif">0.2</text>
<line x1="551.0" x2="554.5" y1="300.50" y2="300.50" stroke="#1a1a1a" stroke-width="1.1"/>
<text x="548.50" y="300.50" dy="0.29em" text-anchor="end" font-size="9" fill="#1a1a1a" stroke="#1a1a1a" font-family="Liberation Serif">0.4</text>
<line y1="352.3" y2="355.6" x1="603.90" x2="603.90" stroke="#1a1a1a" stroke-width="1.1"/>
<text x="603.90" y="365.60" text-anchor="middle" font-size="9" fill="#1a1a1a" stroke="#1a1a1a" font-family="Liberation Serif">0.4</text>
<line x1="551.0" x2="554.5" y1="274.60" y2="274.60" stroke="#1a1a1a" stroke-width="1.1"/>
<text x="548.50" y="274.60" dy="0.29em" text-anchor="end" font-size="9" fill="#1a1a1a" stroke="#1a1a1a" font-family="Liberation Serif">0.6</text>
<line y1="352.3" y2="355.6" x1="627.90" x2="627.90" stroke="#1a1a1a" stroke-width="1.1"/>
<text x="627.90" y="365.60" text-anchor="middle" font-size="9" fill="#1a1a1a" stroke="#1a1a1a" font-family="Liberation Serif">0.6</text>
<line x1="551.0" x2="554.5" y1="248.70" y2="248.70" stroke="#1a1a1a" stroke-width="1.1"/>
<text x="548.50" y="248.70" dy="0.29em" text-anchor="end" font-size="9" fill="#1a1a1a" stroke="#1a1a1a" font-family="Liberation Serif">0.8</text>
<line y1="352.3" y2="355.6" x1="651.90" x2="651.90" stroke="#1a1a1a" stroke-width="1.1"/>
<text x="651.90" y="365.60" text-anchor="middle" font-size="9" fill="#1a1a1a" stroke="#1a1a1a" font-family="Liberation Serif">0.8</text>
<line x1="551.0" x2="554.5" y1="222.80" y2="222.80" stroke="#1a1a1a" stroke-width="1.1"/>
<text x="548.50" y="222.80" dy="0.29em" text-anchor="end" font-size="9" fill="#1a1a1a" stroke="#1a1a1a" font-family="Liberation Serif">1.0</text>
<line y1="352.3" y2="355.6" x1="675.90" x2="675.90" stroke="#1a1a1a" stroke-width="1.1"/>
<text x="675.90" y="365.60" text-anchor="middle" font-size="9" fill="#1a1a1a" stroke="#1a1a1a" font-family="Liberation Serif">1.0</text>
<text x="615.00" y="376.20" text-anchor="middle" font-size="10.1" fill="#1a1a1a" stroke="#1a1a1a" font-family="Liberation Serif">1−Specificity (FPR)</text>
<text x="532.30" y="286.80" transform="rotate(-90 532.30 286.80)" text-anchor="middle" font-size="10.2" fill="#1a1a1a" stroke="#1a1a1a" font-family="Liberation Serif">Sensitivity (TPR)</text>
<text x="675.00" y="336.90" text-anchor="end" font-size="11.4" font-weight="bold" fill="#111" stroke="#111" font-family="Liberation Serif">AUC: 0.769</text>
<text x="674.80" y="349.90" text-anchor="end" font-size="11.5" fill="#111" stroke="#111" font-family="Liberation Serif">CI: 0.686−0.852</text>
<text x="624.90" y="217.00" text-anchor="middle" font-size="14.3" fill="#111" stroke="#111" font-family="Liberation Serif">STAD</text>
<text x="527.20" y="217.00" font-size="19.5" fill="#000" stroke="#000" font-family="Liberation Serif">H</text>
<text x="2.9" y="15.0" font-size="19.5" fill="#000" stroke="#000" font-family="Liberation Serif">A</text>
</svg></body></html>
